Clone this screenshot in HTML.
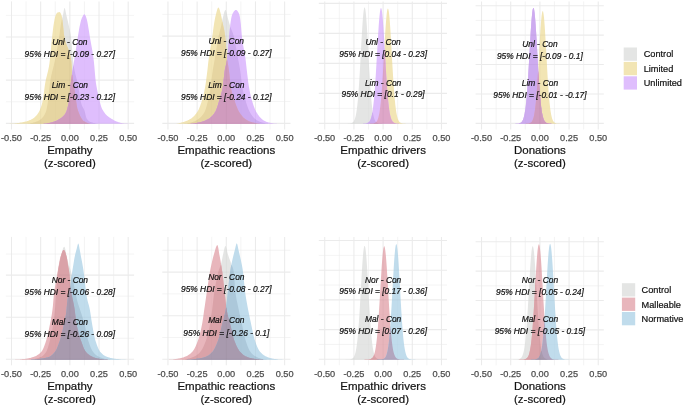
<!DOCTYPE html>
<html><head><meta charset="utf-8"><title>Posterior densities</title>
<style>html,body{margin:0;padding:0;background:#fff;}body{width:685px;height:407px;overflow:hidden;font-family:"Liberation Sans",sans-serif;}svg{display:block;will-change:transform;}</style>
</head><body>
<svg width="685" height="407" viewBox="0 0 685 407" font-family="Liberation Sans, sans-serif"><rect width="685" height="407" fill="#ffffff"/><g><line x1="11.5" x2="11.5" y1="1.4" y2="129.5" stroke="#ebebeb" stroke-width="1.07"/><line x1="26.09" x2="26.09" y1="1.4" y2="129.5" stroke="#ebebeb" stroke-width="0.53"/><line x1="40.67" x2="40.67" y1="1.4" y2="129.5" stroke="#ebebeb" stroke-width="1.07"/><line x1="55.26" x2="55.26" y1="1.4" y2="129.5" stroke="#ebebeb" stroke-width="0.53"/><line x1="69.85" x2="69.85" y1="1.4" y2="129.5" stroke="#ebebeb" stroke-width="1.07"/><line x1="84.44" x2="84.44" y1="1.4" y2="129.5" stroke="#ebebeb" stroke-width="0.53"/><line x1="99.02" x2="99.02" y1="1.4" y2="129.5" stroke="#ebebeb" stroke-width="1.07"/><line x1="113.61" x2="113.61" y1="1.4" y2="129.5" stroke="#ebebeb" stroke-width="0.53"/><line x1="128.2" x2="128.2" y1="1.4" y2="129.5" stroke="#ebebeb" stroke-width="1.07"/><line x1="5.9" x2="134.1" y1="123.35" y2="123.35" stroke="#ebebeb" stroke-width="1.07"/><line x1="5.9" x2="134.1" y1="101.75" y2="101.75" stroke="#ebebeb" stroke-width="0.53"/><line x1="5.9" x2="134.1" y1="80.15" y2="80.15" stroke="#ebebeb" stroke-width="1.07"/><line x1="5.9" x2="134.1" y1="58.55" y2="58.55" stroke="#ebebeb" stroke-width="0.53"/><line x1="5.9" x2="134.1" y1="36.95" y2="36.95" stroke="#ebebeb" stroke-width="1.07"/><line x1="5.9" x2="134.1" y1="15.35" y2="15.35" stroke="#ebebeb" stroke-width="0.53"/><polygon points="26.4,123.8 26.4,123.7 26.9,123.7 27.4,123.7 27.9,123.6 28.4,123.6 28.9,123.5 29.4,123.5 29.9,123.4 30.4,123.3 30.9,123.2 31.4,123.1 31.9,123 32.4,122.9 32.9,122.8 33.4,122.6 33.9,122.5 34.4,122.3 34.9,122.2 35.4,122 35.9,121.8 36.4,121.6 36.9,121.4 37.4,121.2 37.9,121 38.4,120.8 38.9,120.5 39.4,120.3 39.9,120 40.4,119.6 40.9,119.2 41.4,118.8 41.9,118.3 42.4,117.8 42.9,117.1 43.4,116.5 43.9,115.7 44.4,114.9 44.9,114.1 45.4,113.1 45.9,111.8 46.4,109.9 46.9,107.6 47.4,104.9 47.9,102 48.4,97.9 48.9,92.9 49.4,87.8 49.9,83.4 50.4,80.2 50.9,77.5 51.4,75.1 51.9,72.9 52.4,70.8 52.9,68.9 53.4,66.9 53.9,64.9 54.4,62.8 54.9,60.5 55.4,58 55.9,55.4 56.4,52.8 56.9,50.1 57.4,47.4 57.9,44.5 58.4,41.6 58.9,38.5 59.4,35.3 59.9,31.6 60.4,27.6 60.9,24.1 61.4,21.4 61.9,19.3 62.4,17.4 62.9,15.4 63.4,12.9 63.9,9.7 64.4,7.8 64.9,8.4 65.4,10.5 65.9,13.1 66.4,15.3 66.9,17.4 67.4,19.4 67.9,21.6 68.4,23.8 68.9,25.9 69.4,28 69.9,30.3 70.4,33 70.9,36.1 71.4,40.7 71.9,46.5 72.4,52.7 72.9,58.7 73.4,63.5 73.9,66.9 74.4,69.7 74.9,72.1 75.4,74.2 75.9,76.2 76.4,78.2 76.9,80.1 77.4,82.2 77.9,84.5 78.4,87.2 78.9,90.2 79.4,93.4 79.9,96.6 80.4,99.6 80.9,102.1 81.4,104 81.9,105.4 82.4,106.4 82.9,107.4 83.4,108.3 83.9,109.3 84.4,110.6 84.9,112.3 85.4,114.3 85.9,116.2 86.4,117.9 86.9,119 87.4,119.6 87.9,120.2 88.4,120.7 88.9,121.1 89.4,121.4 89.9,121.7 90.4,121.9 90.9,122.1 91.4,122.3 91.9,122.4 92.4,122.6 92.9,122.7 93.4,122.9 93.9,123 94.4,123.1 94.9,123.2 95.4,123.3 95.9,123.4 96.4,123.5 96.9,123.6 97.4,123.6 97.9,123.7 98.4,123.7 98.9,123.7 98.9,123.8" fill="#e4e5e4" /><polygon points="7.4,123.8 7.4,123.7 7.9,123.7 8.4,123.7 8.9,123.7 9.4,123.7 9.9,123.6 10.4,123.6 10.9,123.6 11.4,123.6 11.9,123.5 12.4,123.5 12.9,123.5 13.4,123.4 13.9,123.4 14.4,123.4 14.9,123.3 15.4,123.3 15.9,123.2 16.4,123.2 16.9,123.1 17.4,123.1 17.9,123 18.4,122.9 18.9,122.9 19.4,122.8 19.9,122.7 20.4,122.6 20.9,122.5 21.4,122.4 21.9,122.4 22.4,122.3 22.9,122.2 23.4,122.1 23.9,122 24.4,121.8 24.9,121.7 25.4,121.6 25.9,121.5 26.4,121.4 26.9,121.2 27.4,121.1 27.9,120.9 28.4,120.7 28.9,120.5 29.4,120.3 29.9,120.1 30.4,119.9 30.9,119.7 31.4,119.4 31.9,119.1 32.4,118.9 32.9,118.6 33.4,118.3 33.9,117.9 34.4,117.5 34.9,117.1 35.4,116.6 35.9,116.1 36.4,115.5 36.9,114.9 37.4,114.3 37.9,113.6 38.4,112.8 38.9,112 39.4,111 39.9,109.9 40.4,108.6 40.9,107.3 41.4,105.7 41.9,104.1 42.4,102.2 42.9,99.6 43.4,96.3 43.9,92.5 44.4,88.7 44.9,85.1 45.4,82 45.9,79.5 46.4,77.4 46.9,75.4 47.4,73.5 47.9,71.5 48.4,69.3 48.9,66.8 49.4,63.7 49.9,59.6 50.4,54.8 50.9,49.5 51.4,44.1 51.9,39.1 52.4,34.5 52.9,30.2 53.4,26.2 53.9,22.9 54.4,20.2 54.9,17.7 55.4,15.9 55.9,14.8 56.4,13.8 56.9,13.1 57.4,12.6 57.9,12.4 58.4,12.3 58.9,12.2 59.4,12.1 59.9,12.2 60.4,12.7 60.9,13.7 61.4,14.9 61.9,16.6 62.4,19.9 62.9,23.7 63.4,28.9 63.9,34 64.4,37 64.9,39.4 65.4,41.3 65.9,43 66.4,44.3 66.9,45.6 67.4,46.7 67.9,47.8 68.4,49 68.9,50.3 69.4,51.8 69.9,53.6 70.4,55.7 70.9,58.2 71.4,61.7 71.9,68.3 72.4,75 72.9,79.3 73.4,82.8 73.9,86 74.4,89 74.9,92.1 75.4,95.7 75.9,99.5 76.4,103.1 76.9,106.4 77.4,108.7 77.9,110.3 78.4,111.7 78.9,113 79.4,114.3 79.9,115.4 80.4,116.5 80.9,117.4 81.4,118.3 81.9,119.1 82.4,119.8 82.9,120.4 83.4,120.9 83.9,121.2 84.4,121.6 84.9,121.8 85.4,122.1 85.9,122.4 86.4,122.6 86.9,122.8 87.4,123 87.9,123.1 88.4,123.3 88.9,123.4 89.4,123.5 89.9,123.6 90.4,123.7 90.9,123.7 91.4,123.7 91.4,123.8" fill="#f2e5b4" /><polygon points="42.4,123.8 42.4,123.7 42.9,123.7 43.4,123.7 43.9,123.6 44.4,123.6 44.9,123.5 45.4,123.5 45.9,123.4 46.4,123.4 46.9,123.3 47.4,123.2 47.9,123.1 48.4,123 48.9,123 49.4,122.9 49.9,122.8 50.4,122.7 50.9,122.5 51.4,122.4 51.9,122.3 52.4,122.2 52.9,122 53.4,121.8 53.9,121.7 54.4,121.5 54.9,121.3 55.4,121.1 55.9,120.9 56.4,120.7 56.9,120.4 57.4,120.2 57.9,119.9 58.4,119.6 58.9,119.4 59.4,119.1 59.9,118.8 60.4,118.4 60.9,118.1 61.4,117.8 61.9,117.4 62.4,117 62.9,116.5 63.4,116 63.9,115.5 64.4,114.9 64.9,114.2 65.4,113.4 65.9,112.6 66.4,111.4 66.9,110 67.4,108.3 67.9,106.3 68.4,104.1 68.9,101.4 69.4,97.2 69.9,92 70.4,86.6 70.9,82 71.4,78.2 71.9,74.7 72.4,71.4 72.9,68.2 73.4,65.1 73.9,61.9 74.4,58.7 74.9,55.6 75.4,52.4 75.9,49.3 76.4,46.2 76.9,43 77.4,39.8 77.9,36.6 78.4,33.5 78.9,30.4 79.4,27.6 79.9,25.2 80.4,22.9 80.9,20.8 81.4,19.2 81.9,18 82.4,16.9 82.9,15.9 83.4,15.1 83.9,14.6 84.4,14.3 84.9,14.5 85.4,15.4 85.9,16.6 86.4,18.1 86.9,19.8 87.4,22.1 87.9,24.8 88.4,27.7 88.9,30.8 89.4,34.1 89.9,37.2 90.4,40.1 90.9,42.8 91.4,45.5 91.9,48.2 92.4,51.1 92.9,54.3 93.4,57.7 93.9,61.7 94.4,67.1 94.9,73 95.4,78.6 95.9,82.7 96.4,85.8 96.9,88.5 97.4,90.9 97.9,93.2 98.4,95.3 98.9,97.4 99.4,99.6 99.9,101.9 100.4,103.9 100.9,105.8 101.4,107.3 101.9,108.4 102.4,109.4 102.9,110.3 103.4,111.1 103.9,111.9 104.4,112.6 104.9,113.3 105.4,113.9 105.9,114.5 106.4,115 106.9,115.5 107.4,115.9 107.9,116.3 108.4,116.7 108.9,117 109.4,117.4 109.9,117.7 110.4,118 110.9,118.4 111.4,118.7 111.9,119 112.4,119.3 112.9,119.6 113.4,119.9 113.9,120.2 114.4,120.4 114.9,120.7 115.4,120.9 115.9,121.2 116.4,121.4 116.9,121.6 117.4,121.8 117.9,122 118.4,122.2 118.9,122.3 119.4,122.5 119.9,122.6 120.4,122.8 120.9,122.9 121.4,123 121.9,123.1 122.4,123.2 122.9,123.2 123.4,123.3 123.9,123.4 124.4,123.4 124.9,123.4 125.4,123.5 125.9,123.5 126.4,123.5 126.9,123.6 127.4,123.6 127.9,123.6 128.4,123.6 128.9,123.7 129.4,123.7 129.9,123.7 130.4,123.7 130.4,123.8" fill="#dfbefd" /><polygon points="26.4,123.8 26.4,123.7 26.9,123.7 27.4,123.7 27.9,123.6 28.4,123.6 28.9,123.5 29.4,123.5 29.9,123.4 30.4,123.3 30.9,123.2 31.4,123.1 31.9,123 32.4,122.9 32.9,122.8 33.4,122.6 33.9,122.5 34.4,122.3 34.9,122.2 35.4,122 35.9,121.8 36.4,121.6 36.9,121.4 37.4,121.2 37.9,121 38.4,120.8 38.9,120.5 39.4,120.3 39.9,120 40.4,119.6 40.9,119.2 41.4,118.8 41.9,118.3 42.4,117.8 42.9,117.1 43.4,116.5 43.9,115.7 44.4,114.9 44.9,114.1 45.4,113.1 45.9,111.8 46.4,109.9 46.9,107.6 47.4,104.9 47.9,102 48.4,97.9 48.9,92.9 49.4,87.8 49.9,83.4 50.4,80.2 50.9,77.5 51.4,75.1 51.9,72.9 52.4,70.8 52.9,68.9 53.4,66.9 53.9,64.9 54.4,62.8 54.9,60.5 55.4,58 55.9,55.4 56.4,52.8 56.9,50.1 57.4,47.4 57.9,44.5 58.4,41.6 58.9,38.5 59.4,35.3 59.9,31.6 60.4,27.6 60.9,24.1 61.4,21.4 61.9,19.3 62.4,19.9 62.9,23.7 63.4,28.9 63.9,34 64.4,37 64.9,39.4 65.4,41.3 65.9,43 66.4,44.3 66.9,45.6 67.4,46.7 67.9,47.8 68.4,49 68.9,50.3 69.4,51.8 69.9,53.6 70.4,55.7 70.9,58.2 71.4,61.7 71.9,68.3 72.4,75 72.9,79.3 73.4,82.8 73.9,86 74.4,89 74.9,92.1 75.4,95.7 75.9,99.5 76.4,103.1 76.9,106.4 77.4,108.7 77.9,110.3 78.4,111.7 78.9,113 79.4,114.3 79.9,115.4 80.4,116.5 80.9,117.4 81.4,118.3 81.9,119.1 82.4,119.8 82.9,120.4 83.4,120.9 83.9,121.2 84.4,121.6 84.9,121.8 85.4,122.1 85.9,122.4 86.4,122.6 86.9,122.8 87.4,123 87.9,123.1 88.4,123.3 88.9,123.4 89.4,123.5 89.9,123.6 90.4,123.7 90.9,123.7 91.4,123.7 91.4,123.8" fill="#e6d5a1" /><polygon points="42.4,123.8 42.4,123.7 42.9,123.7 43.4,123.7 43.9,123.6 44.4,123.6 44.9,123.5 45.4,123.5 45.9,123.4 46.4,123.4 46.9,123.3 47.4,123.2 47.9,123.1 48.4,123 48.9,123 49.4,122.9 49.9,122.8 50.4,122.7 50.9,122.5 51.4,122.4 51.9,122.3 52.4,122.2 52.9,122 53.4,121.8 53.9,121.7 54.4,121.5 54.9,121.3 55.4,121.1 55.9,120.9 56.4,120.7 56.9,120.4 57.4,120.2 57.9,119.9 58.4,119.6 58.9,119.4 59.4,119.1 59.9,118.8 60.4,118.4 60.9,118.1 61.4,117.8 61.9,117.4 62.4,117 62.9,116.5 63.4,116 63.9,115.5 64.4,114.9 64.9,114.2 65.4,113.4 65.9,112.6 66.4,111.4 66.9,110 67.4,108.3 67.9,106.3 68.4,104.1 68.9,101.4 69.4,97.2 69.9,92 70.4,86.6 70.9,82 71.4,78.2 71.9,74.7 72.4,71.4 72.9,68.2 73.4,65.1 73.9,66.9 74.4,69.7 74.9,72.1 75.4,74.2 75.9,76.2 76.4,78.2 76.9,80.1 77.4,82.2 77.9,84.5 78.4,87.2 78.9,90.2 79.4,93.4 79.9,96.6 80.4,99.6 80.9,102.1 81.4,104 81.9,105.4 82.4,106.4 82.9,107.4 83.4,108.3 83.9,109.3 84.4,110.6 84.9,112.3 85.4,114.3 85.9,116.2 86.4,117.9 86.9,119 87.4,119.6 87.9,120.2 88.4,120.7 88.9,121.1 89.4,121.4 89.9,121.7 90.4,121.9 90.9,122.1 91.4,122.3 91.9,122.4 92.4,122.6 92.9,122.7 93.4,122.9 93.9,123 94.4,123.1 94.9,123.2 95.4,123.3 95.9,123.4 96.4,123.5 96.9,123.6 97.4,123.6 97.9,123.7 98.4,123.7 98.9,123.7 98.9,123.8" fill="#cdabef" /><polygon points="42.4,123.8 42.4,123.7 42.9,123.7 43.4,123.7 43.9,123.6 44.4,123.6 44.9,123.5 45.4,123.5 45.9,123.4 46.4,123.4 46.9,123.3 47.4,123.2 47.9,123.1 48.4,123 48.9,123 49.4,122.9 49.9,122.8 50.4,122.7 50.9,122.5 51.4,122.4 51.9,122.3 52.4,122.2 52.9,122 53.4,121.8 53.9,121.7 54.4,121.5 54.9,121.3 55.4,121.1 55.9,120.9 56.4,120.7 56.9,120.4 57.4,120.2 57.9,119.9 58.4,119.6 58.9,119.4 59.4,119.1 59.9,118.8 60.4,118.4 60.9,118.1 61.4,117.8 61.9,117.4 62.4,117 62.9,116.5 63.4,116 63.9,115.5 64.4,114.9 64.9,114.2 65.4,113.4 65.9,112.6 66.4,111.4 66.9,110 67.4,108.3 67.9,106.3 68.4,104.1 68.9,101.4 69.4,97.2 69.9,92 70.4,86.6 70.9,82 71.4,78.2 71.9,74.7 72.4,75 72.9,79.3 73.4,82.8 73.9,86 74.4,89 74.9,92.1 75.4,95.7 75.9,99.5 76.4,103.1 76.9,106.4 77.4,108.7 77.9,110.3 78.4,111.7 78.9,113 79.4,114.3 79.9,115.4 80.4,116.5 80.9,117.4 81.4,118.3 81.9,119.1 82.4,119.8 82.9,120.4 83.4,120.9 83.9,121.2 84.4,121.6 84.9,121.8 85.4,122.1 85.9,122.4 86.4,122.6 86.9,122.8 87.4,123 87.9,123.1 88.4,123.3 88.9,123.4 89.4,123.5 89.9,123.6 90.4,123.7 90.9,123.7 91.4,123.7 91.4,123.8" fill="#dea6c8" /><polygon points="42.4,123.8 42.4,123.7 42.9,123.7 43.4,123.7 43.9,123.6 44.4,123.6 44.9,123.5 45.4,123.5 45.9,123.4 46.4,123.4 46.9,123.3 47.4,123.2 47.9,123.1 48.4,123 48.9,123 49.4,122.9 49.9,122.8 50.4,122.7 50.9,122.5 51.4,122.4 51.9,122.3 52.4,122.2 52.9,122 53.4,121.8 53.9,121.7 54.4,121.5 54.9,121.3 55.4,121.1 55.9,120.9 56.4,120.7 56.9,120.4 57.4,120.2 57.9,119.9 58.4,119.6 58.9,119.4 59.4,119.1 59.9,118.8 60.4,118.4 60.9,118.1 61.4,117.8 61.9,117.4 62.4,117 62.9,116.5 63.4,116 63.9,115.5 64.4,114.9 64.9,114.2 65.4,113.4 65.9,112.6 66.4,111.4 66.9,110 67.4,108.3 67.9,106.3 68.4,104.1 68.9,101.4 69.4,97.2 69.9,92 70.4,86.6 70.9,82 71.4,78.2 71.9,74.7 72.4,75 72.9,79.3 73.4,82.8 73.9,86 74.4,89 74.9,92.1 75.4,95.7 75.9,99.5 76.4,103.1 76.9,106.4 77.4,108.7 77.9,110.3 78.4,111.7 78.9,113 79.4,114.3 79.9,115.4 80.4,116.5 80.9,117.4 81.4,118.3 81.9,119.1 82.4,119.8 82.9,120.4 83.4,120.9 83.9,121.2 84.4,121.6 84.9,121.8 85.4,122.1 85.9,122.4 86.4,122.6 86.9,122.8 87.4,123 87.9,123.1 88.4,123.3 88.9,123.4 89.4,123.5 89.9,123.6 90.4,123.7 90.9,123.7 91.4,123.7 91.4,123.8" fill="#d09bbe" /><clipPath id="u0"><polygon points="7.4,123.8 7.4,123.7 7.9,123.7 8.4,123.7 8.9,123.7 9.4,123.7 9.9,123.6 10.4,123.6 10.9,123.6 11.4,123.6 11.9,123.5 12.4,123.5 12.9,123.5 13.4,123.4 13.9,123.4 14.4,123.4 14.9,123.3 15.4,123.3 15.9,123.2 16.4,123.2 16.9,123.1 17.4,123.1 17.9,123 18.4,122.9 18.9,122.9 19.4,122.8 19.9,122.7 20.4,122.6 20.9,122.5 21.4,122.4 21.9,122.4 22.4,122.3 22.9,122.2 23.4,122.1 23.9,122 24.4,121.8 24.9,121.7 25.4,121.6 25.9,121.5 26.4,121.4 26.9,121.2 27.4,121.1 27.9,120.9 28.4,120.7 28.9,120.5 29.4,120.3 29.9,120.1 30.4,119.9 30.9,119.7 31.4,119.4 31.9,119.1 32.4,118.9 32.9,118.6 33.4,118.3 33.9,117.9 34.4,117.5 34.9,117.1 35.4,116.6 35.9,116.1 36.4,115.5 36.9,114.9 37.4,114.3 37.9,113.6 38.4,112.8 38.9,112 39.4,111 39.9,109.9 40.4,108.6 40.9,107.3 41.4,105.7 41.9,104.1 42.4,102.2 42.9,99.6 43.4,96.3 43.9,92.5 44.4,88.7 44.9,85.1 45.4,82 45.9,79.5 46.4,77.4 46.9,75.4 47.4,73.5 47.9,71.5 48.4,69.3 48.9,66.8 49.4,63.7 49.9,59.6 50.4,54.8 50.9,49.5 51.4,44.1 51.9,39.1 52.4,34.5 52.9,30.2 53.4,26.2 53.9,22.9 54.4,20.2 54.9,17.7 55.4,15.9 55.9,14.8 56.4,13.8 56.9,13.1 57.4,12.6 57.9,12.4 58.4,12.3 58.9,12.2 59.4,12.1 59.9,12.2 60.4,12.7 60.9,13.7 61.4,14.9 61.9,16.6 62.4,17.4 62.9,15.4 63.4,12.9 63.9,9.7 64.4,7.8 64.9,8.4 65.4,10.5 65.9,13.1 66.4,15.3 66.9,17.4 67.4,19.4 67.9,21.6 68.4,23.8 68.9,25.9 69.4,28 69.9,30.3 70.4,33 70.9,36.1 71.4,40.7 71.9,46.5 72.4,52.7 72.9,58.7 73.4,63.5 73.9,61.9 74.4,58.7 74.9,55.6 75.4,52.4 75.9,49.3 76.4,46.2 76.9,43 77.4,39.8 77.9,36.6 78.4,33.5 78.9,30.4 79.4,27.6 79.9,25.2 80.4,22.9 80.9,20.8 81.4,19.2 81.9,18 82.4,16.9 82.9,15.9 83.4,15.1 83.9,14.6 84.4,14.3 84.9,14.5 85.4,15.4 85.9,16.6 86.4,18.1 86.9,19.8 87.4,22.1 87.9,24.8 88.4,27.7 88.9,30.8 89.4,34.1 89.9,37.2 90.4,40.1 90.9,42.8 91.4,45.5 91.9,48.2 92.4,51.1 92.9,54.3 93.4,57.7 93.9,61.7 94.4,67.1 94.9,73 95.4,78.6 95.9,82.7 96.4,85.8 96.9,88.5 97.4,90.9 97.9,93.2 98.4,95.3 98.9,97.4 99.4,99.6 99.9,101.9 100.4,103.9 100.9,105.8 101.4,107.3 101.9,108.4 102.4,109.4 102.9,110.3 103.4,111.1 103.9,111.9 104.4,112.6 104.9,113.3 105.4,113.9 105.9,114.5 106.4,115 106.9,115.5 107.4,115.9 107.9,116.3 108.4,116.7 108.9,117 109.4,117.4 109.9,117.7 110.4,118 110.9,118.4 111.4,118.7 111.9,119 112.4,119.3 112.9,119.6 113.4,119.9 113.9,120.2 114.4,120.4 114.9,120.7 115.4,120.9 115.9,121.2 116.4,121.4 116.9,121.6 117.4,121.8 117.9,122 118.4,122.2 118.9,122.3 119.4,122.5 119.9,122.6 120.4,122.8 120.9,122.9 121.4,123 121.9,123.1 122.4,123.2 122.9,123.2 123.4,123.3 123.9,123.4 124.4,123.4 124.9,123.4 125.4,123.5 125.9,123.5 126.4,123.5 126.9,123.6 127.4,123.6 127.9,123.6 128.4,123.6 128.9,123.7 129.4,123.7 129.9,123.7 130.4,123.7 130.4,123.8"/></clipPath><g clip-path="url(#u0)"><line x1="11.5" x2="11.5" y1="1.4" y2="129.5" stroke="#000" stroke-opacity="0.032" stroke-width="1.07"/><line x1="26.09" x2="26.09" y1="1.4" y2="129.5" stroke="#000" stroke-opacity="0.022" stroke-width="0.53"/><line x1="40.67" x2="40.67" y1="1.4" y2="129.5" stroke="#000" stroke-opacity="0.032" stroke-width="1.07"/><line x1="55.26" x2="55.26" y1="1.4" y2="129.5" stroke="#000" stroke-opacity="0.022" stroke-width="0.53"/><line x1="69.85" x2="69.85" y1="1.4" y2="129.5" stroke="#000" stroke-opacity="0.032" stroke-width="1.07"/><line x1="84.44" x2="84.44" y1="1.4" y2="129.5" stroke="#000" stroke-opacity="0.022" stroke-width="0.53"/><line x1="99.02" x2="99.02" y1="1.4" y2="129.5" stroke="#000" stroke-opacity="0.032" stroke-width="1.07"/><line x1="113.61" x2="113.61" y1="1.4" y2="129.5" stroke="#000" stroke-opacity="0.022" stroke-width="0.53"/><line x1="128.2" x2="128.2" y1="1.4" y2="129.5" stroke="#000" stroke-opacity="0.032" stroke-width="1.07"/><line x1="5.9" x2="134.1" y1="123.35" y2="123.35" stroke="#000" stroke-opacity="0.032" stroke-width="1.07"/><line x1="5.9" x2="134.1" y1="101.75" y2="101.75" stroke="#000" stroke-opacity="0.022" stroke-width="0.53"/><line x1="5.9" x2="134.1" y1="80.15" y2="80.15" stroke="#000" stroke-opacity="0.032" stroke-width="1.07"/><line x1="5.9" x2="134.1" y1="58.55" y2="58.55" stroke="#000" stroke-opacity="0.022" stroke-width="0.53"/><line x1="5.9" x2="134.1" y1="36.95" y2="36.95" stroke="#000" stroke-opacity="0.032" stroke-width="1.07"/><line x1="5.9" x2="134.1" y1="15.35" y2="15.35" stroke="#000" stroke-opacity="0.022" stroke-width="0.53"/></g><text x="69.85" y="45.31" font-size="8.4" font-style="italic" text-anchor="middle" fill="#111" stroke="#111" stroke-width="0.2">Unl - Con</text><text x="69.85" y="57.31" font-size="8.4" font-style="italic" text-anchor="middle" fill="#111" stroke="#111" stroke-width="0.2">95% HDI = [-0.09 - 0.27]</text><text x="69.85" y="88.41" font-size="8.4" font-style="italic" text-anchor="middle" fill="#111" stroke="#111" stroke-width="0.2">Lim - Con</text><text x="69.85" y="100.41" font-size="8.4" font-style="italic" text-anchor="middle" fill="#111" stroke="#111" stroke-width="0.2">95% HDI = [-0.23 - 0.12]</text><text x="11.5" y="140.9" font-size="9.2" text-anchor="middle" fill="#4d4d4d" stroke="#4d4d4d" stroke-width="0.25">-0.50</text><text x="40.67" y="140.9" font-size="9.2" text-anchor="middle" fill="#4d4d4d" stroke="#4d4d4d" stroke-width="0.25">-0.25</text><text x="69.85" y="140.9" font-size="9.2" text-anchor="middle" fill="#4d4d4d" stroke="#4d4d4d" stroke-width="0.25">0.00</text><text x="99.02" y="140.9" font-size="9.2" text-anchor="middle" fill="#4d4d4d" stroke="#4d4d4d" stroke-width="0.25">0.25</text><text x="128.2" y="140.9" font-size="9.2" text-anchor="middle" fill="#4d4d4d" stroke="#4d4d4d" stroke-width="0.25">0.50</text><text x="69.85" y="154.1" font-size="11.5" text-anchor="middle" fill="#111" stroke="#111" stroke-width="0.2">Empathy</text><text x="69.85" y="167" font-size="11.5" text-anchor="middle" fill="#111" stroke="#111" stroke-width="0.2">(z-scored)</text></g><g><line x1="167.95" x2="167.95" y1="1.4" y2="129.5" stroke="#ebebeb" stroke-width="1.07"/><line x1="182.54" x2="182.54" y1="1.4" y2="129.5" stroke="#ebebeb" stroke-width="0.53"/><line x1="197.12" x2="197.12" y1="1.4" y2="129.5" stroke="#ebebeb" stroke-width="1.07"/><line x1="211.71" x2="211.71" y1="1.4" y2="129.5" stroke="#ebebeb" stroke-width="0.53"/><line x1="226.3" x2="226.3" y1="1.4" y2="129.5" stroke="#ebebeb" stroke-width="1.07"/><line x1="240.89" x2="240.89" y1="1.4" y2="129.5" stroke="#ebebeb" stroke-width="0.53"/><line x1="255.48" x2="255.48" y1="1.4" y2="129.5" stroke="#ebebeb" stroke-width="1.07"/><line x1="270.06" x2="270.06" y1="1.4" y2="129.5" stroke="#ebebeb" stroke-width="0.53"/><line x1="284.65" x2="284.65" y1="1.4" y2="129.5" stroke="#ebebeb" stroke-width="1.07"/><line x1="162.3" x2="290.5" y1="123.35" y2="123.35" stroke="#ebebeb" stroke-width="1.07"/><line x1="162.3" x2="290.5" y1="101.55" y2="101.55" stroke="#ebebeb" stroke-width="0.53"/><line x1="162.3" x2="290.5" y1="79.75" y2="79.75" stroke="#ebebeb" stroke-width="1.07"/><line x1="162.3" x2="290.5" y1="57.95" y2="57.95" stroke="#ebebeb" stroke-width="0.53"/><line x1="162.3" x2="290.5" y1="36.15" y2="36.15" stroke="#ebebeb" stroke-width="1.07"/><line x1="162.3" x2="290.5" y1="14.35" y2="14.35" stroke="#ebebeb" stroke-width="0.53"/><polygon points="183.8,123.8 183.8,123.7 184.3,123.7 184.8,123.6 185.3,123.6 185.8,123.5 186.3,123.5 186.8,123.4 187.3,123.3 187.8,123.2 188.3,123.1 188.8,123 189.3,122.9 189.8,122.8 190.3,122.7 190.8,122.5 191.3,122.4 191.8,122.3 192.3,122.1 192.8,122 193.3,121.8 193.8,121.6 194.3,121.4 194.8,121.2 195.3,120.9 195.8,120.6 196.3,120.4 196.8,120.1 197.3,119.8 197.8,119.4 198.3,119.1 198.8,118.7 199.3,118.3 199.8,117.9 200.3,117.5 200.8,117 201.3,116.5 201.8,115.9 202.3,115.3 202.8,114.7 203.3,114 203.8,113.2 204.3,112.4 204.8,111.5 205.3,110.3 205.8,108.9 206.3,107.3 206.8,105.5 207.3,103.5 207.8,101.5 208.3,99.4 208.8,97.2 209.3,94.7 209.8,92 210.3,89 210.8,85.8 211.3,81.9 211.8,77.5 212.3,73.4 212.8,70.1 213.3,67.1 213.8,64.4 214.3,61.6 214.8,58.7 215.3,55.7 215.8,52.7 216.3,49.6 216.8,46.5 217.3,43.5 217.8,40.6 218.3,37.9 218.8,35.5 219.3,33.3 219.8,31.4 220.3,29.5 220.8,27.5 221.3,25.2 221.8,22.5 222.3,20 222.8,17.9 223.3,15.9 223.8,13.8 224.3,12.1 224.8,10.7 225.3,10 225.8,10.1 226.3,11.4 226.8,13.4 227.3,15.8 227.8,18 228.3,19.7 228.8,21.5 229.3,23.2 229.8,24.9 230.3,26.5 230.8,27.9 231.3,29.2 231.8,30.4 232.3,31.7 232.8,33 233.3,34.7 233.8,36.6 234.3,38.7 234.8,41.1 235.3,43.5 235.8,46.2 236.3,48.9 236.8,51.6 237.3,54.4 237.8,57.2 238.3,60 238.8,62.6 239.3,65.4 239.8,68.2 240.3,71.3 240.8,75.1 241.3,79.5 241.8,83.8 242.3,87.1 242.8,89.7 243.3,92 243.8,94.1 244.3,96 244.8,97.8 245.3,99.5 245.8,101.2 246.3,102.9 246.8,104.5 247.3,106 247.8,107.5 248.3,108.8 248.8,110 249.3,111.1 249.8,112.1 250.3,112.9 250.8,113.8 251.3,114.5 251.8,115.3 252.3,116 252.8,116.6 253.3,117.2 253.8,117.7 254.3,118.2 254.8,118.7 255.3,119.1 255.8,119.5 256.3,119.9 256.8,120.2 257.3,120.5 257.8,120.8 258.3,121.1 258.8,121.3 259.3,121.6 259.8,121.8 260.3,122 260.8,122.1 261.3,122.3 261.8,122.4 262.3,122.6 262.8,122.7 263.3,122.8 263.8,123 264.3,123.1 264.8,123.2 265.3,123.3 265.8,123.4 266.3,123.5 266.8,123.5 267.3,123.6 267.8,123.6 268.3,123.7 268.8,123.7 268.8,123.8" fill="#e4e5e4" /><polygon points="175.8,123.8 175.8,123.8 176.3,123.7 176.8,123.6 177.3,123.5 177.8,123.5 178.3,123.4 178.8,123.3 179.3,123.1 179.8,123 180.3,122.9 180.8,122.8 181.3,122.6 181.8,122.5 182.3,122.3 182.8,122.2 183.3,122 183.8,121.9 184.3,121.7 184.8,121.5 185.3,121.3 185.8,121.2 186.3,121 186.8,120.8 187.3,120.6 187.8,120.4 188.3,120.1 188.8,119.9 189.3,119.6 189.8,119.3 190.3,119 190.8,118.7 191.3,118.4 191.8,118 192.3,117.6 192.8,117.2 193.3,116.7 193.8,116.3 194.3,115.7 194.8,115.2 195.3,114.6 195.8,114 196.3,113.3 196.8,112.6 197.3,111.9 197.8,111.1 198.3,110.2 198.8,109.2 199.3,108 199.8,106.8 200.3,105.5 200.8,104.1 201.3,102.7 201.8,101.1 202.3,99.5 202.8,97.8 203.3,95.9 203.8,93.7 204.3,91.3 204.8,88.7 205.3,85.9 205.8,82.7 206.3,79.1 206.8,75.2 207.3,71.2 207.8,66.7 208.3,62.1 208.8,58.3 209.3,54.8 209.8,51.6 210.3,48.5 210.8,45.5 211.3,42.6 211.8,39.5 212.3,36.3 212.8,32.9 213.3,29.1 213.8,25.5 214.3,22.3 214.8,19.5 215.3,17 215.8,14.9 216.3,13 216.8,11 217.3,9.3 217.8,8 218.3,7.4 218.8,7.7 219.3,8.7 219.8,10.3 220.3,12.2 220.8,14.1 221.3,16.2 221.8,18.7 222.3,21.4 222.8,23.9 223.3,26.1 223.8,28.3 224.3,30.6 224.8,33.4 225.3,37 225.8,42.7 226.3,49.3 226.8,55.6 227.3,60.2 227.8,63.6 228.3,66.6 228.8,69.8 229.3,73.8 229.8,79.1 230.3,84.3 230.8,87.6 231.3,90 231.8,92.1 232.3,93.9 232.8,95.5 233.3,97 233.8,98.5 234.3,100 234.8,101.5 235.3,103 235.8,104.4 236.3,105.8 236.8,107.1 237.3,108.3 237.8,109.4 238.3,110.5 238.8,111.4 239.3,112.2 239.8,113 240.3,113.7 240.8,114.4 241.3,115.1 241.8,115.7 242.3,116.3 242.8,116.9 243.3,117.4 243.8,117.9 244.3,118.3 244.8,118.7 245.3,119.1 245.8,119.4 246.3,119.8 246.8,120.1 247.3,120.4 247.8,120.6 248.3,120.9 248.8,121.2 249.3,121.4 249.8,121.6 250.3,121.8 250.8,121.9 251.3,122.1 251.8,122.2 252.3,122.4 252.8,122.5 253.3,122.6 253.8,122.7 254.3,122.8 254.8,123 255.3,123.1 255.8,123.2 256.3,123.2 256.8,123.3 257.3,123.4 257.8,123.5 258.3,123.5 258.8,123.6 259.3,123.6 259.8,123.7 260.3,123.7 260.8,123.7 260.8,123.8" fill="#f2e5b4" /><polygon points="189.3,123.8 189.3,123.7 189.8,123.7 190.3,123.7 190.8,123.6 191.3,123.6 191.8,123.5 192.3,123.5 192.8,123.4 193.3,123.4 193.8,123.3 194.3,123.3 194.8,123.2 195.3,123.1 195.8,123 196.3,122.9 196.8,122.9 197.3,122.8 197.8,122.7 198.3,122.6 198.8,122.5 199.3,122.4 199.8,122.3 200.3,122.1 200.8,122 201.3,121.9 201.8,121.8 202.3,121.6 202.8,121.5 203.3,121.3 203.8,121.1 204.3,120.9 204.8,120.7 205.3,120.5 205.8,120.3 206.3,120.1 206.8,119.8 207.3,119.5 207.8,119.3 208.3,119 208.8,118.7 209.3,118.4 209.8,118 210.3,117.6 210.8,117.2 211.3,116.7 211.8,116.2 212.3,115.7 212.8,115.2 213.3,114.6 213.8,113.9 214.3,113.2 214.8,112.5 215.3,111.7 215.8,110.8 216.3,109.6 216.8,108.3 217.3,106.8 217.8,105.3 218.3,103.6 218.8,101.9 219.3,100.2 219.8,98.5 220.3,96.9 220.8,95.3 221.3,93.6 221.8,91.7 222.3,89.6 222.8,87.1 223.3,83.5 223.8,78.4 224.3,73.5 224.8,70.1 225.3,67.6 225.8,65.4 226.3,63.2 226.8,60.5 227.3,57.1 227.8,52.2 228.3,46.5 228.8,40.6 229.3,35 229.8,29.5 230.3,24.4 230.8,20.9 231.3,18 231.8,15.7 232.3,14.3 232.8,13.3 233.3,12.4 233.8,11.6 234.3,10.9 234.8,10.4 235.3,10.1 235.8,9.9 236.3,10 236.8,10.2 237.3,10.7 237.8,11.4 238.3,12.3 238.8,13.3 239.3,14.5 239.8,16.5 240.3,19.8 240.8,23.8 241.3,29.7 241.8,35.4 242.3,39.4 242.8,42.8 243.3,45.9 243.8,48.7 244.3,51.5 244.8,54.4 245.3,57.6 245.8,61.3 246.3,65.7 246.8,70.3 247.3,74.5 247.8,78.6 248.3,82.5 248.8,85.9 249.3,88.8 249.8,91.5 250.3,94 250.8,96.2 251.3,98.1 251.8,99.9 252.3,101.6 252.8,103.2 253.3,104.7 253.8,106.2 254.3,107.5 254.8,108.8 255.3,109.9 255.8,110.9 256.3,111.9 256.8,112.8 257.3,113.6 257.8,114.4 258.3,115.1 258.8,115.8 259.3,116.5 259.8,117.1 260.3,117.6 260.8,118.1 261.3,118.6 261.8,119 262.3,119.4 262.8,119.8 263.3,120.2 263.8,120.5 264.3,120.8 264.8,121.1 265.3,121.3 265.8,121.6 266.3,121.8 266.8,122 267.3,122.1 267.8,122.3 268.3,122.4 268.8,122.5 269.3,122.6 269.8,122.7 270.3,122.8 270.8,122.9 271.3,123 271.8,123.1 272.3,123.2 272.8,123.2 273.3,123.3 273.8,123.4 274.3,123.4 274.8,123.5 275.3,123.5 275.8,123.6 276.3,123.6 276.8,123.6 277.3,123.7 277.8,123.7 278.3,123.7 278.3,123.8" fill="#dfbefd" /><polygon points="183.8,123.8 183.8,123.7 184.3,123.7 184.8,123.6 185.3,123.6 185.8,123.5 186.3,123.5 186.8,123.4 187.3,123.3 187.8,123.2 188.3,123.1 188.8,123 189.3,122.9 189.8,122.8 190.3,122.7 190.8,122.5 191.3,122.4 191.8,122.3 192.3,122.1 192.8,122 193.3,121.8 193.8,121.6 194.3,121.4 194.8,121.2 195.3,120.9 195.8,120.6 196.3,120.4 196.8,120.1 197.3,119.8 197.8,119.4 198.3,119.1 198.8,118.7 199.3,118.3 199.8,117.9 200.3,117.5 200.8,117 201.3,116.5 201.8,115.9 202.3,115.3 202.8,114.7 203.3,114 203.8,113.2 204.3,112.4 204.8,111.5 205.3,110.3 205.8,108.9 206.3,107.3 206.8,105.5 207.3,103.5 207.8,101.5 208.3,99.4 208.8,97.2 209.3,94.7 209.8,92 210.3,89 210.8,85.8 211.3,81.9 211.8,77.5 212.3,73.4 212.8,70.1 213.3,67.1 213.8,64.4 214.3,61.6 214.8,58.7 215.3,55.7 215.8,52.7 216.3,49.6 216.8,46.5 217.3,43.5 217.8,40.6 218.3,37.9 218.8,35.5 219.3,33.3 219.8,31.4 220.3,29.5 220.8,27.5 221.3,25.2 221.8,22.5 222.3,21.4 222.8,23.9 223.3,26.1 223.8,28.3 224.3,30.6 224.8,33.4 225.3,37 225.8,42.7 226.3,49.3 226.8,55.6 227.3,60.2 227.8,63.6 228.3,66.6 228.8,69.8 229.3,73.8 229.8,79.1 230.3,84.3 230.8,87.6 231.3,90 231.8,92.1 232.3,93.9 232.8,95.5 233.3,97 233.8,98.5 234.3,100 234.8,101.5 235.3,103 235.8,104.4 236.3,105.8 236.8,107.1 237.3,108.3 237.8,109.4 238.3,110.5 238.8,111.4 239.3,112.2 239.8,113 240.3,113.7 240.8,114.4 241.3,115.1 241.8,115.7 242.3,116.3 242.8,116.9 243.3,117.4 243.8,117.9 244.3,118.3 244.8,118.7 245.3,119.1 245.8,119.4 246.3,119.8 246.8,120.1 247.3,120.4 247.8,120.6 248.3,120.9 248.8,121.2 249.3,121.4 249.8,121.6 250.3,121.8 250.8,121.9 251.3,122.1 251.8,122.2 252.3,122.4 252.8,122.5 253.3,122.6 253.8,122.7 254.3,122.8 254.8,123 255.3,123.1 255.8,123.2 256.3,123.2 256.8,123.3 257.3,123.4 257.8,123.5 258.3,123.5 258.8,123.6 259.3,123.6 259.8,123.7 260.3,123.7 260.8,123.7 260.8,123.8" fill="#e6d5a1" /><polygon points="189.3,123.8 189.3,123.7 189.8,123.7 190.3,123.7 190.8,123.6 191.3,123.6 191.8,123.5 192.3,123.5 192.8,123.4 193.3,123.4 193.8,123.3 194.3,123.3 194.8,123.2 195.3,123.1 195.8,123 196.3,122.9 196.8,122.9 197.3,122.8 197.8,122.7 198.3,122.6 198.8,122.5 199.3,122.4 199.8,122.3 200.3,122.1 200.8,122 201.3,121.9 201.8,121.8 202.3,121.6 202.8,121.5 203.3,121.3 203.8,121.1 204.3,120.9 204.8,120.7 205.3,120.5 205.8,120.3 206.3,120.1 206.8,119.8 207.3,119.5 207.8,119.3 208.3,119 208.8,118.7 209.3,118.4 209.8,118 210.3,117.6 210.8,117.2 211.3,116.7 211.8,116.2 212.3,115.7 212.8,115.2 213.3,114.6 213.8,113.9 214.3,113.2 214.8,112.5 215.3,111.7 215.8,110.8 216.3,109.6 216.8,108.3 217.3,106.8 217.8,105.3 218.3,103.6 218.8,101.9 219.3,100.2 219.8,98.5 220.3,96.9 220.8,95.3 221.3,93.6 221.8,91.7 222.3,89.6 222.8,87.1 223.3,83.5 223.8,78.4 224.3,73.5 224.8,70.1 225.3,67.6 225.8,65.4 226.3,63.2 226.8,60.5 227.3,57.1 227.8,52.2 228.3,46.5 228.8,40.6 229.3,35 229.8,29.5 230.3,26.5 230.8,27.9 231.3,29.2 231.8,30.4 232.3,31.7 232.8,33 233.3,34.7 233.8,36.6 234.3,38.7 234.8,41.1 235.3,43.5 235.8,46.2 236.3,48.9 236.8,51.6 237.3,54.4 237.8,57.2 238.3,60 238.8,62.6 239.3,65.4 239.8,68.2 240.3,71.3 240.8,75.1 241.3,79.5 241.8,83.8 242.3,87.1 242.8,89.7 243.3,92 243.8,94.1 244.3,96 244.8,97.8 245.3,99.5 245.8,101.2 246.3,102.9 246.8,104.5 247.3,106 247.8,107.5 248.3,108.8 248.8,110 249.3,111.1 249.8,112.1 250.3,112.9 250.8,113.8 251.3,114.5 251.8,115.3 252.3,116 252.8,116.6 253.3,117.2 253.8,117.7 254.3,118.2 254.8,118.7 255.3,119.1 255.8,119.5 256.3,119.9 256.8,120.2 257.3,120.5 257.8,120.8 258.3,121.1 258.8,121.3 259.3,121.6 259.8,121.8 260.3,122 260.8,122.1 261.3,122.3 261.8,122.4 262.3,122.6 262.8,122.7 263.3,122.8 263.8,123 264.3,123.1 264.8,123.2 265.3,123.3 265.8,123.4 266.3,123.5 266.8,123.5 267.3,123.6 267.8,123.6 268.3,123.7 268.8,123.7 268.8,123.8" fill="#cdabef" /><polygon points="189.3,123.8 189.3,123.7 189.8,123.7 190.3,123.7 190.8,123.6 191.3,123.6 191.8,123.5 192.3,123.5 192.8,123.4 193.3,123.4 193.8,123.3 194.3,123.3 194.8,123.2 195.3,123.1 195.8,123 196.3,122.9 196.8,122.9 197.3,122.8 197.8,122.7 198.3,122.6 198.8,122.5 199.3,122.4 199.8,122.3 200.3,122.1 200.8,122 201.3,121.9 201.8,121.8 202.3,121.6 202.8,121.5 203.3,121.3 203.8,121.1 204.3,120.9 204.8,120.7 205.3,120.5 205.8,120.3 206.3,120.1 206.8,119.8 207.3,119.5 207.8,119.3 208.3,119 208.8,118.7 209.3,118.4 209.8,118 210.3,117.6 210.8,117.2 211.3,116.7 211.8,116.2 212.3,115.7 212.8,115.2 213.3,114.6 213.8,113.9 214.3,113.2 214.8,112.5 215.3,111.7 215.8,110.8 216.3,109.6 216.8,108.3 217.3,106.8 217.8,105.3 218.3,103.6 218.8,101.9 219.3,100.2 219.8,98.5 220.3,96.9 220.8,95.3 221.3,93.6 221.8,91.7 222.3,89.6 222.8,87.1 223.3,83.5 223.8,78.4 224.3,73.5 224.8,70.1 225.3,67.6 225.8,65.4 226.3,63.2 226.8,60.5 227.3,60.2 227.8,63.6 228.3,66.6 228.8,69.8 229.3,73.8 229.8,79.1 230.3,84.3 230.8,87.6 231.3,90 231.8,92.1 232.3,93.9 232.8,95.5 233.3,97 233.8,98.5 234.3,100 234.8,101.5 235.3,103 235.8,104.4 236.3,105.8 236.8,107.1 237.3,108.3 237.8,109.4 238.3,110.5 238.8,111.4 239.3,112.2 239.8,113 240.3,113.7 240.8,114.4 241.3,115.1 241.8,115.7 242.3,116.3 242.8,116.9 243.3,117.4 243.8,117.9 244.3,118.3 244.8,118.7 245.3,119.1 245.8,119.4 246.3,119.8 246.8,120.1 247.3,120.4 247.8,120.6 248.3,120.9 248.8,121.2 249.3,121.4 249.8,121.6 250.3,121.8 250.8,121.9 251.3,122.1 251.8,122.2 252.3,122.4 252.8,122.5 253.3,122.6 253.8,122.7 254.3,122.8 254.8,123 255.3,123.1 255.8,123.2 256.3,123.2 256.8,123.3 257.3,123.4 257.8,123.5 258.3,123.5 258.8,123.6 259.3,123.6 259.8,123.7 260.3,123.7 260.8,123.7 260.8,123.8" fill="#dea6c8" /><polygon points="189.3,123.8 189.3,123.7 189.8,123.7 190.3,123.7 190.8,123.6 191.3,123.6 191.8,123.5 192.3,123.5 192.8,123.4 193.3,123.4 193.8,123.3 194.3,123.3 194.8,123.2 195.3,123.1 195.8,123 196.3,122.9 196.8,122.9 197.3,122.8 197.8,122.7 198.3,122.6 198.8,122.5 199.3,122.4 199.8,122.3 200.3,122.1 200.8,122 201.3,121.9 201.8,121.8 202.3,121.6 202.8,121.5 203.3,121.3 203.8,121.1 204.3,120.9 204.8,120.7 205.3,120.5 205.8,120.3 206.3,120.1 206.8,119.8 207.3,119.5 207.8,119.3 208.3,119 208.8,118.7 209.3,118.4 209.8,118 210.3,117.6 210.8,117.2 211.3,116.7 211.8,116.2 212.3,115.7 212.8,115.2 213.3,114.6 213.8,113.9 214.3,113.2 214.8,112.5 215.3,111.7 215.8,110.8 216.3,109.6 216.8,108.3 217.3,106.8 217.8,105.3 218.3,103.6 218.8,101.9 219.3,100.2 219.8,98.5 220.3,96.9 220.8,95.3 221.3,93.6 221.8,91.7 222.3,89.6 222.8,87.1 223.3,83.5 223.8,78.4 224.3,73.5 224.8,70.1 225.3,67.6 225.8,65.4 226.3,63.2 226.8,60.5 227.3,60.2 227.8,63.6 228.3,66.6 228.8,69.8 229.3,73.8 229.8,79.1 230.3,84.3 230.8,87.6 231.3,90 231.8,92.1 232.3,93.9 232.8,95.5 233.3,97 233.8,98.5 234.3,100 234.8,101.5 235.3,103 235.8,104.4 236.3,105.8 236.8,107.1 237.3,108.3 237.8,109.4 238.3,110.5 238.8,111.4 239.3,112.2 239.8,113 240.3,113.7 240.8,114.4 241.3,115.1 241.8,115.7 242.3,116.3 242.8,116.9 243.3,117.4 243.8,117.9 244.3,118.3 244.8,118.7 245.3,119.1 245.8,119.4 246.3,119.8 246.8,120.1 247.3,120.4 247.8,120.6 248.3,120.9 248.8,121.2 249.3,121.4 249.8,121.6 250.3,121.8 250.8,121.9 251.3,122.1 251.8,122.2 252.3,122.4 252.8,122.5 253.3,122.6 253.8,122.7 254.3,122.8 254.8,123 255.3,123.1 255.8,123.2 256.3,123.2 256.8,123.3 257.3,123.4 257.8,123.5 258.3,123.5 258.8,123.6 259.3,123.6 259.8,123.7 260.3,123.7 260.8,123.7 260.8,123.8" fill="#d09bbe" /><clipPath id="u1"><polygon points="175.8,123.8 175.8,123.8 176.3,123.7 176.8,123.6 177.3,123.5 177.8,123.5 178.3,123.4 178.8,123.3 179.3,123.1 179.8,123 180.3,122.9 180.8,122.8 181.3,122.6 181.8,122.5 182.3,122.3 182.8,122.2 183.3,122 183.8,121.9 184.3,121.7 184.8,121.5 185.3,121.3 185.8,121.2 186.3,121 186.8,120.8 187.3,120.6 187.8,120.4 188.3,120.1 188.8,119.9 189.3,119.6 189.8,119.3 190.3,119 190.8,118.7 191.3,118.4 191.8,118 192.3,117.6 192.8,117.2 193.3,116.7 193.8,116.3 194.3,115.7 194.8,115.2 195.3,114.6 195.8,114 196.3,113.3 196.8,112.6 197.3,111.9 197.8,111.1 198.3,110.2 198.8,109.2 199.3,108 199.8,106.8 200.3,105.5 200.8,104.1 201.3,102.7 201.8,101.1 202.3,99.5 202.8,97.8 203.3,95.9 203.8,93.7 204.3,91.3 204.8,88.7 205.3,85.9 205.8,82.7 206.3,79.1 206.8,75.2 207.3,71.2 207.8,66.7 208.3,62.1 208.8,58.3 209.3,54.8 209.8,51.6 210.3,48.5 210.8,45.5 211.3,42.6 211.8,39.5 212.3,36.3 212.8,32.9 213.3,29.1 213.8,25.5 214.3,22.3 214.8,19.5 215.3,17 215.8,14.9 216.3,13 216.8,11 217.3,9.3 217.8,8 218.3,7.4 218.8,7.7 219.3,8.7 219.8,10.3 220.3,12.2 220.8,14.1 221.3,16.2 221.8,18.7 222.3,20 222.8,17.9 223.3,15.9 223.8,13.8 224.3,12.1 224.8,10.7 225.3,10 225.8,10.1 226.3,11.4 226.8,13.4 227.3,15.8 227.8,18 228.3,19.7 228.8,21.5 229.3,23.2 229.8,24.9 230.3,24.4 230.8,20.9 231.3,18 231.8,15.7 232.3,14.3 232.8,13.3 233.3,12.4 233.8,11.6 234.3,10.9 234.8,10.4 235.3,10.1 235.8,9.9 236.3,10 236.8,10.2 237.3,10.7 237.8,11.4 238.3,12.3 238.8,13.3 239.3,14.5 239.8,16.5 240.3,19.8 240.8,23.8 241.3,29.7 241.8,35.4 242.3,39.4 242.8,42.8 243.3,45.9 243.8,48.7 244.3,51.5 244.8,54.4 245.3,57.6 245.8,61.3 246.3,65.7 246.8,70.3 247.3,74.5 247.8,78.6 248.3,82.5 248.8,85.9 249.3,88.8 249.8,91.5 250.3,94 250.8,96.2 251.3,98.1 251.8,99.9 252.3,101.6 252.8,103.2 253.3,104.7 253.8,106.2 254.3,107.5 254.8,108.8 255.3,109.9 255.8,110.9 256.3,111.9 256.8,112.8 257.3,113.6 257.8,114.4 258.3,115.1 258.8,115.8 259.3,116.5 259.8,117.1 260.3,117.6 260.8,118.1 261.3,118.6 261.8,119 262.3,119.4 262.8,119.8 263.3,120.2 263.8,120.5 264.3,120.8 264.8,121.1 265.3,121.3 265.8,121.6 266.3,121.8 266.8,122 267.3,122.1 267.8,122.3 268.3,122.4 268.8,122.5 269.3,122.6 269.8,122.7 270.3,122.8 270.8,122.9 271.3,123 271.8,123.1 272.3,123.2 272.8,123.2 273.3,123.3 273.8,123.4 274.3,123.4 274.8,123.5 275.3,123.5 275.8,123.6 276.3,123.6 276.8,123.6 277.3,123.7 277.8,123.7 278.3,123.7 278.3,123.8"/></clipPath><g clip-path="url(#u1)"><line x1="167.95" x2="167.95" y1="1.4" y2="129.5" stroke="#000" stroke-opacity="0.032" stroke-width="1.07"/><line x1="182.54" x2="182.54" y1="1.4" y2="129.5" stroke="#000" stroke-opacity="0.022" stroke-width="0.53"/><line x1="197.12" x2="197.12" y1="1.4" y2="129.5" stroke="#000" stroke-opacity="0.032" stroke-width="1.07"/><line x1="211.71" x2="211.71" y1="1.4" y2="129.5" stroke="#000" stroke-opacity="0.022" stroke-width="0.53"/><line x1="226.3" x2="226.3" y1="1.4" y2="129.5" stroke="#000" stroke-opacity="0.032" stroke-width="1.07"/><line x1="240.89" x2="240.89" y1="1.4" y2="129.5" stroke="#000" stroke-opacity="0.022" stroke-width="0.53"/><line x1="255.48" x2="255.48" y1="1.4" y2="129.5" stroke="#000" stroke-opacity="0.032" stroke-width="1.07"/><line x1="270.06" x2="270.06" y1="1.4" y2="129.5" stroke="#000" stroke-opacity="0.022" stroke-width="0.53"/><line x1="284.65" x2="284.65" y1="1.4" y2="129.5" stroke="#000" stroke-opacity="0.032" stroke-width="1.07"/><line x1="162.3" x2="290.5" y1="123.35" y2="123.35" stroke="#000" stroke-opacity="0.032" stroke-width="1.07"/><line x1="162.3" x2="290.5" y1="101.55" y2="101.55" stroke="#000" stroke-opacity="0.022" stroke-width="0.53"/><line x1="162.3" x2="290.5" y1="79.75" y2="79.75" stroke="#000" stroke-opacity="0.032" stroke-width="1.07"/><line x1="162.3" x2="290.5" y1="57.95" y2="57.95" stroke="#000" stroke-opacity="0.022" stroke-width="0.53"/><line x1="162.3" x2="290.5" y1="36.15" y2="36.15" stroke="#000" stroke-opacity="0.032" stroke-width="1.07"/><line x1="162.3" x2="290.5" y1="14.35" y2="14.35" stroke="#000" stroke-opacity="0.022" stroke-width="0.53"/></g><text x="226.3" y="44.11" font-size="8.4" font-style="italic" text-anchor="middle" fill="#111" stroke="#111" stroke-width="0.2">Unl - Con</text><text x="226.3" y="56.01" font-size="8.4" font-style="italic" text-anchor="middle" fill="#111" stroke="#111" stroke-width="0.2">95% HDI = [-0.09 - 0.27]</text><text x="226.3" y="87.91" font-size="8.4" font-style="italic" text-anchor="middle" fill="#111" stroke="#111" stroke-width="0.2">Lim - Con</text><text x="226.3" y="100.01" font-size="8.4" font-style="italic" text-anchor="middle" fill="#111" stroke="#111" stroke-width="0.2">95% HDI = [-0.24 - 0.12]</text><text x="167.95" y="140.9" font-size="9.2" text-anchor="middle" fill="#4d4d4d" stroke="#4d4d4d" stroke-width="0.25">-0.50</text><text x="197.12" y="140.9" font-size="9.2" text-anchor="middle" fill="#4d4d4d" stroke="#4d4d4d" stroke-width="0.25">-0.25</text><text x="226.3" y="140.9" font-size="9.2" text-anchor="middle" fill="#4d4d4d" stroke="#4d4d4d" stroke-width="0.25">0.00</text><text x="255.48" y="140.9" font-size="9.2" text-anchor="middle" fill="#4d4d4d" stroke="#4d4d4d" stroke-width="0.25">0.25</text><text x="284.65" y="140.9" font-size="9.2" text-anchor="middle" fill="#4d4d4d" stroke="#4d4d4d" stroke-width="0.25">0.50</text><text x="226.3" y="154.1" font-size="11.5" text-anchor="middle" fill="#111" stroke="#111" stroke-width="0.2">Empathic reactions</text><text x="226.3" y="167" font-size="11.5" text-anchor="middle" fill="#111" stroke="#111" stroke-width="0.2">(z-scored)</text></g><g><line x1="324.75" x2="324.75" y1="1.4" y2="129.5" stroke="#ebebeb" stroke-width="1.07"/><line x1="339.34" x2="339.34" y1="1.4" y2="129.5" stroke="#ebebeb" stroke-width="0.53"/><line x1="353.93" x2="353.93" y1="1.4" y2="129.5" stroke="#ebebeb" stroke-width="1.07"/><line x1="368.51" x2="368.51" y1="1.4" y2="129.5" stroke="#ebebeb" stroke-width="0.53"/><line x1="383.1" x2="383.1" y1="1.4" y2="129.5" stroke="#ebebeb" stroke-width="1.07"/><line x1="397.69" x2="397.69" y1="1.4" y2="129.5" stroke="#ebebeb" stroke-width="0.53"/><line x1="412.28" x2="412.28" y1="1.4" y2="129.5" stroke="#ebebeb" stroke-width="1.07"/><line x1="426.86" x2="426.86" y1="1.4" y2="129.5" stroke="#ebebeb" stroke-width="0.53"/><line x1="441.45" x2="441.45" y1="1.4" y2="129.5" stroke="#ebebeb" stroke-width="1.07"/><line x1="318.8" x2="447" y1="123.35" y2="123.35" stroke="#ebebeb" stroke-width="1.07"/><line x1="318.8" x2="447" y1="108.35" y2="108.35" stroke="#ebebeb" stroke-width="0.53"/><line x1="318.8" x2="447" y1="93.35" y2="93.35" stroke="#ebebeb" stroke-width="1.07"/><line x1="318.8" x2="447" y1="78.35" y2="78.35" stroke="#ebebeb" stroke-width="0.53"/><line x1="318.8" x2="447" y1="63.35" y2="63.35" stroke="#ebebeb" stroke-width="1.07"/><line x1="318.8" x2="447" y1="48.35" y2="48.35" stroke="#ebebeb" stroke-width="0.53"/><line x1="318.8" x2="447" y1="33.35" y2="33.35" stroke="#ebebeb" stroke-width="1.07"/><line x1="318.8" x2="447" y1="18.35" y2="18.35" stroke="#ebebeb" stroke-width="0.53"/><line x1="318.8" x2="447" y1="3.35" y2="3.35" stroke="#ebebeb" stroke-width="1.07"/><polygon points="344.8,123.8 344.8,123.7 345.3,123.7 345.8,123.7 346.3,123.7 346.8,123.7 347.3,123.7 347.8,123.6 348.3,123.6 348.8,123.6 349.3,123.5 349.8,123.5 350.3,123.4 350.8,123.3 351.3,123.1 351.8,123 352.3,122.7 352.8,122.3 353.3,121.9 353.8,121.2 354.3,120.3 354.8,119.1 355.3,117.5 355.8,115.4 356.3,112.8 356.8,109.5 357.3,105.4 357.8,100.4 358.3,94.5 358.8,87.8 359.3,80.2 359.8,71.8 360.3,62.9 360.8,53.6 361.3,44.3 361.8,35.4 362.3,27 362.8,19.8 363.3,14 363.8,9.8 364.3,7.6 364.8,7.4 365.3,9.2 365.8,13 366.3,18.5 366.8,25.5 367.3,33.6 367.8,42.5 368.3,51.8 368.8,61.1 369.3,70.1 369.8,78.6 370.3,86.3 370.8,93.3 371.3,99.3 371.8,104.4 372.3,108.7 372.8,112.2 373.3,115 373.8,117.1 374.3,118.8 374.8,120.1 375.3,121 375.8,121.7 376.3,122.3 376.8,122.6 377.3,122.9 377.8,123.1 378.3,123.3 378.8,123.4 379.3,123.4 379.8,123.5 380.3,123.6 380.8,123.6 381.3,123.6 381.8,123.6 382.3,123.7 382.8,123.7 383.3,123.7 383.8,123.7 384.3,123.7 384.3,123.8" fill="#e4e5e4" /><polygon points="367.8,123.8 367.8,123.7 368.3,123.7 368.8,123.7 369.3,123.7 369.8,123.7 370.3,123.6 370.8,123.6 371.3,123.6 371.8,123.6 372.3,123.5 372.8,123.4 373.3,123.4 373.8,123.3 374.3,123.1 374.8,122.9 375.3,122.7 375.8,122.4 376.3,121.9 376.8,121.2 377.3,120.4 377.8,119.3 378.3,117.8 378.8,115.8 379.3,113.4 379.8,110.3 380.3,106.5 380.8,101.9 381.3,96.4 381.8,90.2 382.3,83.1 382.8,75.2 383.3,66.8 383.8,58 384.3,49 384.8,40.1 385.3,31.8 385.8,24.2 386.3,17.9 386.8,13 387.3,9.8 387.8,8.4 388.3,9 388.8,11.5 389.3,15.7 389.8,21.5 390.3,28.6 390.8,36.7 391.3,45.4 391.8,54.4 392.3,63.3 392.8,71.9 393.3,80 393.8,87.4 394.3,94 394.8,99.8 395.3,104.7 395.8,108.8 396.3,112.2 396.8,114.9 397.3,117 397.8,118.7 398.3,120 398.8,120.9 399.3,121.7 399.8,122.2 400.3,122.6 400.8,122.9 401.3,123.1 401.8,123.2 402.3,123.3 402.8,123.4 403.3,123.5 403.8,123.5 404.3,123.6 404.8,123.6 405.3,123.6 405.8,123.7 406.3,123.7 406.8,123.7 407.3,123.7 407.8,123.7 407.8,123.8" fill="#f2e5b4" /><polygon points="360.3,123.8 360.3,123.7 360.8,123.7 361.3,123.7 361.8,123.7 362.3,123.7 362.8,123.7 363.3,123.6 363.8,123.6 364.3,123.6 364.8,123.5 365.3,123.5 365.8,123.4 366.3,123.3 366.8,123.2 367.3,123 367.8,122.8 368.3,122.6 368.8,122.2 369.3,121.7 369.8,121 370.3,120 370.8,118.8 371.3,117.2 371.8,115.2 372.3,112.7 372.8,109.5 373.3,105.6 373.8,101 374.3,95.6 374.8,89.3 375.3,82.3 375.8,74.6 376.3,66.3 376.8,57.6 377.3,48.8 377.8,40.2 378.3,32 378.8,24.5 379.3,18.2 379.8,13.2 380.3,9.8 380.8,8.1 381.3,8.3 381.8,10.3 382.3,14.1 382.8,19.4 383.3,25.9 383.8,33.6 384.3,41.9 384.8,50.6 385.3,59.4 385.8,68 386.3,76.2 386.8,83.8 387.3,90.6 387.8,96.7 388.3,102 388.8,106.4 389.3,110.2 389.8,113.2 390.3,115.7 390.8,117.6 391.3,119.1 391.8,120.2 392.3,121.1 392.8,121.8 393.3,122.3 393.8,122.6 394.3,122.9 394.8,123.1 395.3,123.2 395.8,123.3 396.3,123.4 396.8,123.5 397.3,123.5 397.8,123.6 398.3,123.6 398.8,123.6 399.3,123.7 399.8,123.7 400.3,123.7 400.8,123.7 401.3,123.7 401.8,123.7 401.8,123.8" fill="#dfbefd" /><polygon points="367.8,123.8 367.8,123.7 368.3,123.7 368.8,123.7 369.3,123.7 369.8,123.7 370.3,123.6 370.8,123.6 371.3,123.6 371.8,123.6 372.3,123.5 372.8,123.4 373.3,123.4 373.8,123.3 374.3,123.1 374.8,122.9 375.3,122.7 375.8,122.4 376.3,122.3 376.8,122.6 377.3,122.9 377.8,123.1 378.3,123.3 378.8,123.4 379.3,123.4 379.8,123.5 380.3,123.6 380.8,123.6 381.3,123.6 381.8,123.6 382.3,123.7 382.8,123.7 383.3,123.7 383.8,123.7 384.3,123.7 384.3,123.8" fill="#e6d5a1" /><polygon points="360.3,123.8 360.3,123.7 360.8,123.7 361.3,123.7 361.8,123.7 362.3,123.7 362.8,123.7 363.3,123.6 363.8,123.6 364.3,123.6 364.8,123.5 365.3,123.5 365.8,123.4 366.3,123.3 366.8,123.2 367.3,123 367.8,122.8 368.3,122.6 368.8,122.2 369.3,121.7 369.8,121 370.3,120 370.8,118.8 371.3,117.2 371.8,115.2 372.3,112.7 372.8,112.2 373.3,115 373.8,117.1 374.3,118.8 374.8,120.1 375.3,121 375.8,121.7 376.3,122.3 376.8,122.6 377.3,122.9 377.8,123.1 378.3,123.3 378.8,123.4 379.3,123.4 379.8,123.5 380.3,123.6 380.8,123.6 381.3,123.6 381.8,123.6 382.3,123.7 382.8,123.7 383.3,123.7 383.8,123.7 384.3,123.7 384.3,123.8" fill="#cdabef" /><polygon points="367.8,123.8 367.8,123.7 368.3,123.7 368.8,123.7 369.3,123.7 369.8,123.7 370.3,123.6 370.8,123.6 371.3,123.6 371.8,123.6 372.3,123.5 372.8,123.4 373.3,123.4 373.8,123.3 374.3,123.1 374.8,122.9 375.3,122.7 375.8,122.4 376.3,121.9 376.8,121.2 377.3,120.4 377.8,119.3 378.3,117.8 378.8,115.8 379.3,113.4 379.8,110.3 380.3,106.5 380.8,101.9 381.3,96.4 381.8,90.2 382.3,83.1 382.8,75.2 383.3,66.8 383.8,58 384.3,49 384.8,50.6 385.3,59.4 385.8,68 386.3,76.2 386.8,83.8 387.3,90.6 387.8,96.7 388.3,102 388.8,106.4 389.3,110.2 389.8,113.2 390.3,115.7 390.8,117.6 391.3,119.1 391.8,120.2 392.3,121.1 392.8,121.8 393.3,122.3 393.8,122.6 394.3,122.9 394.8,123.1 395.3,123.2 395.8,123.3 396.3,123.4 396.8,123.5 397.3,123.5 397.8,123.6 398.3,123.6 398.8,123.6 399.3,123.7 399.8,123.7 400.3,123.7 400.8,123.7 401.3,123.7 401.8,123.7 401.8,123.8" fill="#dea6c8" /><polygon points="367.8,123.8 367.8,123.7 368.3,123.7 368.8,123.7 369.3,123.7 369.8,123.7 370.3,123.6 370.8,123.6 371.3,123.6 371.8,123.6 372.3,123.5 372.8,123.4 373.3,123.4 373.8,123.3 374.3,123.1 374.8,122.9 375.3,122.7 375.8,122.4 376.3,122.3 376.8,122.6 377.3,122.9 377.8,123.1 378.3,123.3 378.8,123.4 379.3,123.4 379.8,123.5 380.3,123.6 380.8,123.6 381.3,123.6 381.8,123.6 382.3,123.7 382.8,123.7 383.3,123.7 383.8,123.7 384.3,123.7 384.3,123.8" fill="#d09bbe" /><clipPath id="u2"><polygon points="344.8,123.8 344.8,123.7 345.3,123.7 345.8,123.7 346.3,123.7 346.8,123.7 347.3,123.7 347.8,123.6 348.3,123.6 348.8,123.6 349.3,123.5 349.8,123.5 350.3,123.4 350.8,123.3 351.3,123.1 351.8,123 352.3,122.7 352.8,122.3 353.3,121.9 353.8,121.2 354.3,120.3 354.8,119.1 355.3,117.5 355.8,115.4 356.3,112.8 356.8,109.5 357.3,105.4 357.8,100.4 358.3,94.5 358.8,87.8 359.3,80.2 359.8,71.8 360.3,62.9 360.8,53.6 361.3,44.3 361.8,35.4 362.3,27 362.8,19.8 363.3,14 363.8,9.8 364.3,7.6 364.8,7.4 365.3,9.2 365.8,13 366.3,18.5 366.8,25.5 367.3,33.6 367.8,42.5 368.3,51.8 368.8,61.1 369.3,70.1 369.8,78.6 370.3,86.3 370.8,93.3 371.3,99.3 371.8,104.4 372.3,108.7 372.8,109.5 373.3,105.6 373.8,101 374.3,95.6 374.8,89.3 375.3,82.3 375.8,74.6 376.3,66.3 376.8,57.6 377.3,48.8 377.8,40.2 378.3,32 378.8,24.5 379.3,18.2 379.8,13.2 380.3,9.8 380.8,8.1 381.3,8.3 381.8,10.3 382.3,14.1 382.8,19.4 383.3,25.9 383.8,33.6 384.3,41.9 384.8,40.1 385.3,31.8 385.8,24.2 386.3,17.9 386.8,13 387.3,9.8 387.8,8.4 388.3,9 388.8,11.5 389.3,15.7 389.8,21.5 390.3,28.6 390.8,36.7 391.3,45.4 391.8,54.4 392.3,63.3 392.8,71.9 393.3,80 393.8,87.4 394.3,94 394.8,99.8 395.3,104.7 395.8,108.8 396.3,112.2 396.8,114.9 397.3,117 397.8,118.7 398.3,120 398.8,120.9 399.3,121.7 399.8,122.2 400.3,122.6 400.8,122.9 401.3,123.1 401.8,123.2 402.3,123.3 402.8,123.4 403.3,123.5 403.8,123.5 404.3,123.6 404.8,123.6 405.3,123.6 405.8,123.7 406.3,123.7 406.8,123.7 407.3,123.7 407.8,123.7 407.8,123.8"/></clipPath><g clip-path="url(#u2)"><line x1="324.75" x2="324.75" y1="1.4" y2="129.5" stroke="#000" stroke-opacity="0.032" stroke-width="1.07"/><line x1="339.34" x2="339.34" y1="1.4" y2="129.5" stroke="#000" stroke-opacity="0.022" stroke-width="0.53"/><line x1="353.93" x2="353.93" y1="1.4" y2="129.5" stroke="#000" stroke-opacity="0.032" stroke-width="1.07"/><line x1="368.51" x2="368.51" y1="1.4" y2="129.5" stroke="#000" stroke-opacity="0.022" stroke-width="0.53"/><line x1="383.1" x2="383.1" y1="1.4" y2="129.5" stroke="#000" stroke-opacity="0.032" stroke-width="1.07"/><line x1="397.69" x2="397.69" y1="1.4" y2="129.5" stroke="#000" stroke-opacity="0.022" stroke-width="0.53"/><line x1="412.28" x2="412.28" y1="1.4" y2="129.5" stroke="#000" stroke-opacity="0.032" stroke-width="1.07"/><line x1="426.86" x2="426.86" y1="1.4" y2="129.5" stroke="#000" stroke-opacity="0.022" stroke-width="0.53"/><line x1="441.45" x2="441.45" y1="1.4" y2="129.5" stroke="#000" stroke-opacity="0.032" stroke-width="1.07"/><line x1="318.8" x2="447" y1="123.35" y2="123.35" stroke="#000" stroke-opacity="0.032" stroke-width="1.07"/><line x1="318.8" x2="447" y1="108.35" y2="108.35" stroke="#000" stroke-opacity="0.022" stroke-width="0.53"/><line x1="318.8" x2="447" y1="93.35" y2="93.35" stroke="#000" stroke-opacity="0.032" stroke-width="1.07"/><line x1="318.8" x2="447" y1="78.35" y2="78.35" stroke="#000" stroke-opacity="0.022" stroke-width="0.53"/><line x1="318.8" x2="447" y1="63.35" y2="63.35" stroke="#000" stroke-opacity="0.032" stroke-width="1.07"/><line x1="318.8" x2="447" y1="48.35" y2="48.35" stroke="#000" stroke-opacity="0.022" stroke-width="0.53"/><line x1="318.8" x2="447" y1="33.35" y2="33.35" stroke="#000" stroke-opacity="0.032" stroke-width="1.07"/><line x1="318.8" x2="447" y1="18.35" y2="18.35" stroke="#000" stroke-opacity="0.022" stroke-width="0.53"/><line x1="318.8" x2="447" y1="3.35" y2="3.35" stroke="#000" stroke-opacity="0.032" stroke-width="1.07"/></g><text x="383.1" y="45.31" font-size="8.4" font-style="italic" text-anchor="middle" fill="#111" stroke="#111" stroke-width="0.2">Unl - Con</text><text x="383.1" y="57.31" font-size="8.4" font-style="italic" text-anchor="middle" fill="#111" stroke="#111" stroke-width="0.2">95% HDI = [0.04 - 0.23]</text><text x="383.1" y="85.71" font-size="8.4" font-style="italic" text-anchor="middle" fill="#111" stroke="#111" stroke-width="0.2">Lim - Con</text><text x="383.1" y="97.21" font-size="8.4" font-style="italic" text-anchor="middle" fill="#111" stroke="#111" stroke-width="0.2">95% HDI = [0.1 - 0.29]</text><text x="324.75" y="140.9" font-size="9.2" text-anchor="middle" fill="#4d4d4d" stroke="#4d4d4d" stroke-width="0.25">-0.50</text><text x="353.93" y="140.9" font-size="9.2" text-anchor="middle" fill="#4d4d4d" stroke="#4d4d4d" stroke-width="0.25">-0.25</text><text x="383.1" y="140.9" font-size="9.2" text-anchor="middle" fill="#4d4d4d" stroke="#4d4d4d" stroke-width="0.25">0.00</text><text x="412.28" y="140.9" font-size="9.2" text-anchor="middle" fill="#4d4d4d" stroke="#4d4d4d" stroke-width="0.25">0.25</text><text x="441.45" y="140.9" font-size="9.2" text-anchor="middle" fill="#4d4d4d" stroke="#4d4d4d" stroke-width="0.25">0.50</text><text x="383.1" y="154.1" font-size="11.5" text-anchor="middle" fill="#111" stroke="#111" stroke-width="0.2">Empathic drivers</text><text x="383.1" y="167" font-size="11.5" text-anchor="middle" fill="#111" stroke="#111" stroke-width="0.2">(z-scored)</text></g><g><line x1="481.55" x2="481.55" y1="1.4" y2="129.5" stroke="#ebebeb" stroke-width="1.07"/><line x1="496.14" x2="496.14" y1="1.4" y2="129.5" stroke="#ebebeb" stroke-width="0.53"/><line x1="510.72" x2="510.72" y1="1.4" y2="129.5" stroke="#ebebeb" stroke-width="1.07"/><line x1="525.31" x2="525.31" y1="1.4" y2="129.5" stroke="#ebebeb" stroke-width="0.53"/><line x1="539.9" x2="539.9" y1="1.4" y2="129.5" stroke="#ebebeb" stroke-width="1.07"/><line x1="554.49" x2="554.49" y1="1.4" y2="129.5" stroke="#ebebeb" stroke-width="0.53"/><line x1="569.07" x2="569.07" y1="1.4" y2="129.5" stroke="#ebebeb" stroke-width="1.07"/><line x1="583.66" x2="583.66" y1="1.4" y2="129.5" stroke="#ebebeb" stroke-width="0.53"/><line x1="598.25" x2="598.25" y1="1.4" y2="129.5" stroke="#ebebeb" stroke-width="1.07"/><line x1="475.6" x2="603.8" y1="123.35" y2="123.35" stroke="#ebebeb" stroke-width="1.07"/><line x1="475.6" x2="603.8" y1="108.65" y2="108.65" stroke="#ebebeb" stroke-width="0.53"/><line x1="475.6" x2="603.8" y1="93.95" y2="93.95" stroke="#ebebeb" stroke-width="1.07"/><line x1="475.6" x2="603.8" y1="79.25" y2="79.25" stroke="#ebebeb" stroke-width="0.53"/><line x1="475.6" x2="603.8" y1="64.55" y2="64.55" stroke="#ebebeb" stroke-width="1.07"/><line x1="475.6" x2="603.8" y1="49.85" y2="49.85" stroke="#ebebeb" stroke-width="0.53"/><line x1="475.6" x2="603.8" y1="35.15" y2="35.15" stroke="#ebebeb" stroke-width="1.07"/><line x1="475.6" x2="603.8" y1="20.45" y2="20.45" stroke="#ebebeb" stroke-width="0.53"/><line x1="475.6" x2="603.8" y1="5.75" y2="5.75" stroke="#ebebeb" stroke-width="1.07"/><polygon points="513.1,123.8 513.1,123.7 513.6,123.7 514.1,123.7 514.6,123.7 515.1,123.7 515.6,123.6 516.1,123.6 516.6,123.6 517.1,123.6 517.6,123.5 518.1,123.4 518.6,123.4 519.1,123.3 519.6,123.1 520.1,123 520.6,122.7 521.1,122.4 521.6,121.9 522.1,121.3 522.6,120.5 523.1,119.4 523.6,118 524.1,116.1 524.6,113.8 525.1,110.8 525.6,107.2 526.1,102.8 526.6,97.6 527.1,91.6 527.6,84.7 528.1,77.1 528.6,68.9 529.1,60.2 529.6,51.3 530.1,42.4 530.6,33.9 531.1,26.1 531.6,19.4 532.1,13.9 532.6,10.1 533.1,8 533.6,7.9 534.1,9.5 534.6,13 535.1,18.2 535.6,24.7 536.1,32.3 536.6,40.7 537.1,49.5 537.6,58.4 538.1,67.2 538.6,75.5 539.1,83.3 539.6,90.3 540.1,96.5 540.6,101.8 541.1,106.4 541.6,110.2 542.1,113.2 542.6,115.7 543.1,117.6 543.6,119.2 544.1,120.3 544.6,121.2 545.1,121.8 545.6,122.3 546.1,122.7 546.6,122.9 547.1,123.1 547.6,123.2 548.1,123.3 548.6,123.4 549.1,123.5 549.6,123.5 550.1,123.6 550.6,123.6 551.1,123.6 551.6,123.7 552.1,123.7 552.6,123.7 553.1,123.7 553.6,123.7 553.6,123.8" fill="#e4e5e4" /><polygon points="523.6,123.8 523.6,123.7 524.1,123.7 524.6,123.7 525.1,123.7 525.6,123.7 526.1,123.6 526.6,123.6 527.1,123.6 527.6,123.5 528.1,123.5 528.6,123.4 529.1,123.3 529.6,123.1 530.1,123 530.6,122.7 531.1,122.4 531.6,121.9 532.1,121.2 532.6,120.3 533.1,119.1 533.6,117.4 534.1,115.3 534.6,112.6 535.1,109.2 535.6,105 536.1,99.9 536.6,94 537.1,87.2 537.6,79.5 538.1,71.1 538.6,62.2 539.1,53.1 539.6,44 540.1,35.4 540.6,27.6 541.1,20.9 541.6,15.7 542.1,12.4 542.6,10.9 543.1,11.6 543.6,14.2 544.1,18.6 544.6,24.7 545.1,32.2 545.6,40.5 546.1,49.5 546.6,58.6 547.1,67.6 547.6,76.2 548.1,84.2 548.6,91.4 549.1,97.7 549.6,103.1 550.1,107.6 550.6,111.3 551.1,114.3 551.6,116.6 552.1,118.5 552.6,119.8 553.1,120.9 553.6,121.6 554.1,122.2 554.6,122.6 555.1,122.9 555.6,123.1 556.1,123.2 556.6,123.4 557.1,123.4 557.6,123.5 558.1,123.6 558.6,123.6 559.1,123.6 559.6,123.6 560.1,123.7 560.6,123.7 561.1,123.7 561.6,123.7 562.1,123.7 562.1,123.8" fill="#f2e5b4" /><polygon points="513.1,123.8 513.1,123.7 513.6,123.7 514.1,123.7 514.6,123.7 515.1,123.7 515.6,123.6 516.1,123.6 516.6,123.6 517.1,123.6 517.6,123.5 518.1,123.4 518.6,123.4 519.1,123.3 519.6,123.1 520.1,123 520.6,122.7 521.1,122.4 521.6,121.9 522.1,121.3 522.6,120.5 523.1,119.4 523.6,118 524.1,116.1 524.6,113.8 525.1,110.8 525.6,107.2 526.1,102.8 526.6,97.6 527.1,91.6 527.6,84.7 528.1,77.1 528.6,68.9 529.1,60.2 529.6,51.3 530.1,42.4 530.6,33.9 531.1,26.1 531.6,19.4 532.1,13.9 532.6,10.1 533.1,8 533.6,7.9 534.1,9.5 534.6,13 535.1,18.2 535.6,24.7 536.1,32.3 536.6,40.7 537.1,49.5 537.6,58.4 538.1,67.2 538.6,75.5 539.1,83.3 539.6,90.3 540.1,96.5 540.6,101.8 541.1,106.4 541.6,110.2 542.1,113.2 542.6,115.7 543.1,117.6 543.6,119.2 544.1,120.3 544.6,121.2 545.1,121.8 545.6,122.3 546.1,122.7 546.6,122.9 547.1,123.1 547.6,123.2 548.1,123.3 548.6,123.4 549.1,123.5 549.6,123.5 550.1,123.6 550.6,123.6 551.1,123.6 551.6,123.7 552.1,123.7 552.6,123.7 553.1,123.7 553.6,123.7 553.6,123.8" fill="#dfbefd" /><polygon points="523.6,123.8 523.6,123.7 524.1,123.7 524.6,123.7 525.1,123.7 525.6,123.7 526.1,123.6 526.6,123.6 527.1,123.6 527.6,123.5 528.1,123.5 528.6,123.4 529.1,123.3 529.6,123.1 530.1,123 530.6,122.7 531.1,122.4 531.6,121.9 532.1,121.2 532.6,120.3 533.1,119.1 533.6,117.4 534.1,115.3 534.6,112.6 535.1,109.2 535.6,105 536.1,99.9 536.6,94 537.1,87.2 537.6,79.5 538.1,71.1 538.6,75.5 539.1,83.3 539.6,90.3 540.1,96.5 540.6,101.8 541.1,106.4 541.6,110.2 542.1,113.2 542.6,115.7 543.1,117.6 543.6,119.2 544.1,120.3 544.6,121.2 545.1,121.8 545.6,122.3 546.1,122.7 546.6,122.9 547.1,123.1 547.6,123.2 548.1,123.3 548.6,123.4 549.1,123.5 549.6,123.5 550.1,123.6 550.6,123.6 551.1,123.6 551.6,123.7 552.1,123.7 552.6,123.7 553.1,123.7 553.6,123.7 553.6,123.8" fill="#e6d5a1" /><polygon points="513.1,123.8 513.1,123.7 513.6,123.7 514.1,123.7 514.6,123.7 515.1,123.7 515.6,123.6 516.1,123.6 516.6,123.6 517.1,123.6 517.6,123.5 518.1,123.4 518.6,123.4 519.1,123.3 519.6,123.1 520.1,123 520.6,122.7 521.1,122.4 521.6,121.9 522.1,121.3 522.6,120.5 523.1,119.4 523.6,118 524.1,116.1 524.6,113.8 525.1,110.8 525.6,107.2 526.1,102.8 526.6,97.6 527.1,91.6 527.6,84.7 528.1,77.1 528.6,68.9 529.1,60.2 529.6,51.3 530.1,42.4 530.6,33.9 531.1,26.1 531.6,19.4 532.1,13.9 532.6,10.1 533.1,8 533.6,7.9 534.1,9.5 534.6,13 535.1,18.2 535.6,24.7 536.1,32.3 536.6,40.7 537.1,49.5 537.6,58.4 538.1,67.2 538.6,75.5 539.1,83.3 539.6,90.3 540.1,96.5 540.6,101.8 541.1,106.4 541.6,110.2 542.1,113.2 542.6,115.7 543.1,117.6 543.6,119.2 544.1,120.3 544.6,121.2 545.1,121.8 545.6,122.3 546.1,122.7 546.6,122.9 547.1,123.1 547.6,123.2 548.1,123.3 548.6,123.4 549.1,123.5 549.6,123.5 550.1,123.6 550.6,123.6 551.1,123.6 551.6,123.7 552.1,123.7 552.6,123.7 553.1,123.7 553.6,123.7 553.6,123.8" fill="#cdabef" /><polygon points="523.6,123.8 523.6,123.7 524.1,123.7 524.6,123.7 525.1,123.7 525.6,123.7 526.1,123.6 526.6,123.6 527.1,123.6 527.6,123.5 528.1,123.5 528.6,123.4 529.1,123.3 529.6,123.1 530.1,123 530.6,122.7 531.1,122.4 531.6,121.9 532.1,121.2 532.6,120.3 533.1,119.1 533.6,117.4 534.1,115.3 534.6,112.6 535.1,109.2 535.6,105 536.1,99.9 536.6,94 537.1,87.2 537.6,79.5 538.1,71.1 538.6,75.5 539.1,83.3 539.6,90.3 540.1,96.5 540.6,101.8 541.1,106.4 541.6,110.2 542.1,113.2 542.6,115.7 543.1,117.6 543.6,119.2 544.1,120.3 544.6,121.2 545.1,121.8 545.6,122.3 546.1,122.7 546.6,122.9 547.1,123.1 547.6,123.2 548.1,123.3 548.6,123.4 549.1,123.5 549.6,123.5 550.1,123.6 550.6,123.6 551.1,123.6 551.6,123.7 552.1,123.7 552.6,123.7 553.1,123.7 553.6,123.7 553.6,123.8" fill="#dea6c8" /><polygon points="523.6,123.8 523.6,123.7 524.1,123.7 524.6,123.7 525.1,123.7 525.6,123.7 526.1,123.6 526.6,123.6 527.1,123.6 527.6,123.5 528.1,123.5 528.6,123.4 529.1,123.3 529.6,123.1 530.1,123 530.6,122.7 531.1,122.4 531.6,121.9 532.1,121.2 532.6,120.3 533.1,119.1 533.6,117.4 534.1,115.3 534.6,112.6 535.1,109.2 535.6,105 536.1,99.9 536.6,94 537.1,87.2 537.6,79.5 538.1,71.1 538.6,75.5 539.1,83.3 539.6,90.3 540.1,96.5 540.6,101.8 541.1,106.4 541.6,110.2 542.1,113.2 542.6,115.7 543.1,117.6 543.6,119.2 544.1,120.3 544.6,121.2 545.1,121.8 545.6,122.3 546.1,122.7 546.6,122.9 547.1,123.1 547.6,123.2 548.1,123.3 548.6,123.4 549.1,123.5 549.6,123.5 550.1,123.6 550.6,123.6 551.1,123.6 551.6,123.7 552.1,123.7 552.6,123.7 553.1,123.7 553.6,123.7 553.6,123.8" fill="#d09bbe" /><clipPath id="u3"><polygon points="513.1,123.8 513.1,123.7 513.6,123.7 514.1,123.7 514.6,123.7 515.1,123.7 515.6,123.6 516.1,123.6 516.6,123.6 517.1,123.6 517.6,123.5 518.1,123.4 518.6,123.4 519.1,123.3 519.6,123.1 520.1,123 520.6,122.7 521.1,122.4 521.6,121.9 522.1,121.3 522.6,120.5 523.1,119.4 523.6,118 524.1,116.1 524.6,113.8 525.1,110.8 525.6,107.2 526.1,102.8 526.6,97.6 527.1,91.6 527.6,84.7 528.1,77.1 528.6,68.9 529.1,60.2 529.6,51.3 530.1,42.4 530.6,33.9 531.1,26.1 531.6,19.4 532.1,13.9 532.6,10.1 533.1,8 533.6,7.9 534.1,9.5 534.6,13 535.1,18.2 535.6,24.7 536.1,32.3 536.6,40.7 537.1,49.5 537.6,58.4 538.1,67.2 538.6,62.2 539.1,53.1 539.6,44 540.1,35.4 540.6,27.6 541.1,20.9 541.6,15.7 542.1,12.4 542.6,10.9 543.1,11.6 543.6,14.2 544.1,18.6 544.6,24.7 545.1,32.2 545.6,40.5 546.1,49.5 546.6,58.6 547.1,67.6 547.6,76.2 548.1,84.2 548.6,91.4 549.1,97.7 549.6,103.1 550.1,107.6 550.6,111.3 551.1,114.3 551.6,116.6 552.1,118.5 552.6,119.8 553.1,120.9 553.6,121.6 554.1,122.2 554.6,122.6 555.1,122.9 555.6,123.1 556.1,123.2 556.6,123.4 557.1,123.4 557.6,123.5 558.1,123.6 558.6,123.6 559.1,123.6 559.6,123.6 560.1,123.7 560.6,123.7 561.1,123.7 561.6,123.7 562.1,123.7 562.1,123.8"/></clipPath><g clip-path="url(#u3)"><line x1="481.55" x2="481.55" y1="1.4" y2="129.5" stroke="#000" stroke-opacity="0.032" stroke-width="1.07"/><line x1="496.14" x2="496.14" y1="1.4" y2="129.5" stroke="#000" stroke-opacity="0.022" stroke-width="0.53"/><line x1="510.72" x2="510.72" y1="1.4" y2="129.5" stroke="#000" stroke-opacity="0.032" stroke-width="1.07"/><line x1="525.31" x2="525.31" y1="1.4" y2="129.5" stroke="#000" stroke-opacity="0.022" stroke-width="0.53"/><line x1="539.9" x2="539.9" y1="1.4" y2="129.5" stroke="#000" stroke-opacity="0.032" stroke-width="1.07"/><line x1="554.49" x2="554.49" y1="1.4" y2="129.5" stroke="#000" stroke-opacity="0.022" stroke-width="0.53"/><line x1="569.07" x2="569.07" y1="1.4" y2="129.5" stroke="#000" stroke-opacity="0.032" stroke-width="1.07"/><line x1="583.66" x2="583.66" y1="1.4" y2="129.5" stroke="#000" stroke-opacity="0.022" stroke-width="0.53"/><line x1="598.25" x2="598.25" y1="1.4" y2="129.5" stroke="#000" stroke-opacity="0.032" stroke-width="1.07"/><line x1="475.6" x2="603.8" y1="123.35" y2="123.35" stroke="#000" stroke-opacity="0.032" stroke-width="1.07"/><line x1="475.6" x2="603.8" y1="108.65" y2="108.65" stroke="#000" stroke-opacity="0.022" stroke-width="0.53"/><line x1="475.6" x2="603.8" y1="93.95" y2="93.95" stroke="#000" stroke-opacity="0.032" stroke-width="1.07"/><line x1="475.6" x2="603.8" y1="79.25" y2="79.25" stroke="#000" stroke-opacity="0.022" stroke-width="0.53"/><line x1="475.6" x2="603.8" y1="64.55" y2="64.55" stroke="#000" stroke-opacity="0.032" stroke-width="1.07"/><line x1="475.6" x2="603.8" y1="49.85" y2="49.85" stroke="#000" stroke-opacity="0.022" stroke-width="0.53"/><line x1="475.6" x2="603.8" y1="35.15" y2="35.15" stroke="#000" stroke-opacity="0.032" stroke-width="1.07"/><line x1="475.6" x2="603.8" y1="20.45" y2="20.45" stroke="#000" stroke-opacity="0.022" stroke-width="0.53"/><line x1="475.6" x2="603.8" y1="5.75" y2="5.75" stroke="#000" stroke-opacity="0.032" stroke-width="1.07"/></g><text x="539.9" y="46.81" font-size="8.4" font-style="italic" text-anchor="middle" fill="#111" stroke="#111" stroke-width="0.2">Unl - Con</text><text x="539.9" y="58.71" font-size="8.4" font-style="italic" text-anchor="middle" fill="#111" stroke="#111" stroke-width="0.2">95% HDI = [-0.09 - 0.1]</text><text x="539.9" y="86.41" font-size="8.4" font-style="italic" text-anchor="middle" fill="#111" stroke="#111" stroke-width="0.2">Lim - Con</text><text x="539.9" y="98.11" font-size="8.4" font-style="italic" text-anchor="middle" fill="#111" stroke="#111" stroke-width="0.2">95% HDI = [-0.01 - -0.17]</text><text x="481.55" y="140.9" font-size="9.2" text-anchor="middle" fill="#4d4d4d" stroke="#4d4d4d" stroke-width="0.25">-0.50</text><text x="510.72" y="140.9" font-size="9.2" text-anchor="middle" fill="#4d4d4d" stroke="#4d4d4d" stroke-width="0.25">-0.25</text><text x="539.9" y="140.9" font-size="9.2" text-anchor="middle" fill="#4d4d4d" stroke="#4d4d4d" stroke-width="0.25">0.00</text><text x="569.07" y="140.9" font-size="9.2" text-anchor="middle" fill="#4d4d4d" stroke="#4d4d4d" stroke-width="0.25">0.25</text><text x="598.25" y="140.9" font-size="9.2" text-anchor="middle" fill="#4d4d4d" stroke="#4d4d4d" stroke-width="0.25">0.50</text><text x="539.9" y="154.1" font-size="11.5" text-anchor="middle" fill="#111" stroke="#111" stroke-width="0.2">Donations</text><text x="539.9" y="167" font-size="11.5" text-anchor="middle" fill="#111" stroke="#111" stroke-width="0.2">(z-scored)</text></g><g><line x1="11.5" x2="11.5" y1="236.9" y2="365.3" stroke="#ebebeb" stroke-width="1.07"/><line x1="26.09" x2="26.09" y1="236.9" y2="365.3" stroke="#ebebeb" stroke-width="0.53"/><line x1="40.67" x2="40.67" y1="236.9" y2="365.3" stroke="#ebebeb" stroke-width="1.07"/><line x1="55.26" x2="55.26" y1="236.9" y2="365.3" stroke="#ebebeb" stroke-width="0.53"/><line x1="69.85" x2="69.85" y1="236.9" y2="365.3" stroke="#ebebeb" stroke-width="1.07"/><line x1="84.44" x2="84.44" y1="236.9" y2="365.3" stroke="#ebebeb" stroke-width="0.53"/><line x1="99.02" x2="99.02" y1="236.9" y2="365.3" stroke="#ebebeb" stroke-width="1.07"/><line x1="113.61" x2="113.61" y1="236.9" y2="365.3" stroke="#ebebeb" stroke-width="0.53"/><line x1="128.2" x2="128.2" y1="236.9" y2="365.3" stroke="#ebebeb" stroke-width="1.07"/><line x1="5.9" x2="134.1" y1="359.3" y2="359.3" stroke="#ebebeb" stroke-width="1.07"/><line x1="5.9" x2="134.1" y1="338.25" y2="338.25" stroke="#ebebeb" stroke-width="0.53"/><line x1="5.9" x2="134.1" y1="317.2" y2="317.2" stroke="#ebebeb" stroke-width="1.07"/><line x1="5.9" x2="134.1" y1="296.15" y2="296.15" stroke="#ebebeb" stroke-width="0.53"/><line x1="5.9" x2="134.1" y1="275.1" y2="275.1" stroke="#ebebeb" stroke-width="1.07"/><line x1="5.9" x2="134.1" y1="254.05" y2="254.05" stroke="#ebebeb" stroke-width="0.53"/><polygon points="29.4,359.7 29.4,359.7 29.9,359.6 30.4,359.6 30.9,359.6 31.4,359.5 31.9,359.5 32.4,359.4 32.9,359.3 33.4,359.3 33.9,359.2 34.4,359.1 34.9,359 35.4,358.8 35.9,358.7 36.4,358.6 36.9,358.4 37.4,358.3 37.9,358.1 38.4,357.9 38.9,357.7 39.4,357.5 39.9,357.3 40.4,357.1 40.9,356.9 41.4,356.7 41.9,356.4 42.4,356.1 42.9,355.7 43.4,355.3 43.9,354.8 44.4,354.3 44.9,353.6 45.4,353 45.9,352.2 46.4,351.4 46.9,350.4 47.4,349.1 47.9,347.7 48.4,346 48.9,344.2 49.4,342.4 49.9,340.5 50.4,338.6 50.9,336.5 51.4,334.3 51.9,332 52.4,329.4 52.9,326.5 53.4,323.3 53.9,319.6 54.4,315.3 54.9,310.2 55.4,304 55.9,296.5 56.4,289.6 56.9,282.8 57.4,276.7 57.9,272 58.4,268.8 58.9,266.1 59.4,263.5 59.9,260.8 60.4,258.4 60.9,256.3 61.4,254.4 61.9,252.4 62.4,250.5 62.9,248.9 63.4,247.6 63.9,246.9 64.4,246.8 64.9,247.8 65.4,249.8 65.9,252.3 66.4,254.9 66.9,257.1 67.4,259.3 67.9,261.5 68.4,263.6 68.9,265.4 69.4,266.8 69.9,268 70.4,269.4 70.9,271 71.4,273 71.9,275.1 72.4,277.4 72.9,279.7 73.4,282.2 73.9,284.7 74.4,287.2 74.9,289.6 75.4,292.1 75.9,294.7 76.4,297.3 76.9,299.6 77.4,301.5 77.9,303.2 78.4,304.8 78.9,306.3 79.4,307.7 79.9,309.2 80.4,310.7 80.9,312.3 81.4,313.8 81.9,315.3 82.4,316.9 82.9,318.5 83.4,320.1 83.9,321.8 84.4,323.6 84.9,325.6 85.4,327.9 85.9,330.3 86.4,332.8 86.9,335.3 87.4,337.5 87.9,339.4 88.4,341 88.9,342.6 89.4,344 89.9,345.4 90.4,346.7 90.9,347.9 91.4,349 91.9,350 92.4,350.9 92.9,351.6 93.4,352.3 93.9,352.9 94.4,353.4 94.9,354 95.4,354.5 95.9,354.9 96.4,355.3 96.9,355.7 97.4,356.1 97.9,356.3 98.4,356.6 98.9,356.8 99.4,357 99.9,357.2 100.4,357.4 100.9,357.6 101.4,357.8 101.9,358 102.4,358.2 102.9,358.3 103.4,358.5 103.9,358.6 104.4,358.8 104.9,358.9 105.4,359 105.9,359.1 106.4,359.2 106.9,359.3 107.4,359.4 107.9,359.4 108.4,359.5 108.9,359.6 109.4,359.6 109.9,359.6 110.4,359.7 110.4,359.7" fill="#e4e5e4" /><polygon points="14.4,359.7 14.4,359.7 14.9,359.7 15.4,359.6 15.9,359.6 16.4,359.6 16.9,359.6 17.4,359.5 17.9,359.5 18.4,359.5 18.9,359.4 19.4,359.4 19.9,359.4 20.4,359.3 20.9,359.3 21.4,359.2 21.9,359.2 22.4,359.1 22.9,359.1 23.4,359 23.9,359 24.4,358.9 24.9,358.9 25.4,358.8 25.9,358.7 26.4,358.7 26.9,358.6 27.4,358.5 27.9,358.4 28.4,358.3 28.9,358.2 29.4,358.1 29.9,358 30.4,357.9 30.9,357.7 31.4,357.6 31.9,357.5 32.4,357.3 32.9,357.1 33.4,357 33.9,356.8 34.4,356.6 34.9,356.4 35.4,356.2 35.9,356 36.4,355.7 36.9,355.4 37.4,355.1 37.9,354.8 38.4,354.5 38.9,354.1 39.4,353.7 39.9,353.2 40.4,352.8 40.9,352.3 41.4,351.7 41.9,351.1 42.4,350.3 42.9,349.3 43.4,348.2 43.9,347 44.4,345.7 44.9,344.3 45.4,342.9 45.9,341.3 46.4,339.8 46.9,338.1 47.4,336.2 47.9,334.1 48.4,331.8 48.9,329.5 49.4,327 49.9,324.5 50.4,322 50.9,319.5 51.4,316.8 51.9,313.8 52.4,310.3 52.9,306 53.4,299.7 53.9,294.8 54.4,291 54.9,287.5 55.4,284.4 55.9,281.5 56.4,278.8 56.9,276 57.4,273.2 57.9,270.2 58.4,267.3 58.9,264.6 59.4,261.8 59.9,259.1 60.4,257 60.9,255.5 61.4,254 61.9,252.7 62.4,251.5 62.9,250.6 63.4,250 63.9,249.9 64.4,250.3 64.9,251.3 65.4,252.6 65.9,254.2 66.4,256 66.9,258.1 67.4,261.2 67.9,264.5 68.4,267.3 68.9,270 69.4,273.8 69.9,279.7 70.4,286.1 70.9,290.6 71.4,293.3 71.9,295.5 72.4,298 72.9,300.3 73.4,302.7 73.9,305.2 74.4,308 74.9,311.6 75.4,315.8 75.9,320 76.4,323.4 76.9,326 77.4,328.3 77.9,330.5 78.4,332.4 78.9,334.2 79.4,335.9 79.9,337.4 80.4,338.9 80.9,340.4 81.4,341.8 81.9,343.3 82.4,344.6 82.9,346 83.4,347.2 83.9,348.4 84.4,349.5 84.9,350.4 85.4,351.2 85.9,351.8 86.4,352.4 86.9,353 87.4,353.4 87.9,353.9 88.4,354.3 88.9,354.7 89.4,355.1 89.9,355.4 90.4,355.8 90.9,356 91.4,356.3 91.9,356.5 92.4,356.8 92.9,357 93.4,357.2 93.9,357.4 94.4,357.6 94.9,357.7 95.4,357.9 95.9,358 96.4,358.2 96.9,358.3 97.4,358.4 97.9,358.5 98.4,358.6 98.9,358.7 99.4,358.8 99.9,358.9 100.4,359 100.9,359 101.4,359.1 101.9,359.2 102.4,359.2 102.9,359.3 103.4,359.3 103.9,359.4 104.4,359.4 104.9,359.5 105.4,359.5 105.9,359.5 106.4,359.6 106.9,359.6 107.4,359.6 107.9,359.7 108.4,359.7 108.4,359.7" fill="#e8b6bc" /><polygon points="30.4,359.7 30.4,359.7 30.9,359.7 31.4,359.6 31.9,359.6 32.4,359.6 32.9,359.5 33.4,359.5 33.9,359.5 34.4,359.4 34.9,359.4 35.4,359.3 35.9,359.3 36.4,359.2 36.9,359.2 37.4,359.1 37.9,359 38.4,359 38.9,358.9 39.4,358.9 39.9,358.8 40.4,358.7 40.9,358.7 41.4,358.6 41.9,358.5 42.4,358.4 42.9,358.3 43.4,358.3 43.9,358.2 44.4,358.1 44.9,358 45.4,357.9 45.9,357.8 46.4,357.6 46.9,357.5 47.4,357.4 47.9,357.2 48.4,357 48.9,356.9 49.4,356.7 49.9,356.5 50.4,356.2 50.9,355.9 51.4,355.5 51.9,355.1 52.4,354.7 52.9,354.2 53.4,353.7 53.9,353.1 54.4,352.5 54.9,351.9 55.4,351.2 55.9,350.4 56.4,349.4 56.9,348.4 57.4,347.2 57.9,346 58.4,344.7 58.9,343.3 59.4,341.9 59.9,340.4 60.4,338.9 60.9,337.1 61.4,335.3 61.9,333.3 62.4,331.2 62.9,329 63.4,326.7 63.9,324.5 64.4,322.2 64.9,320 65.4,317.5 65.9,314.7 66.4,311.2 66.9,305.5 67.4,300.4 67.9,297.6 68.4,295.4 68.9,293.6 69.4,291.6 69.9,289 70.4,285.7 70.9,281.8 71.4,277.7 71.9,273.8 72.4,270.4 72.9,267.4 73.4,264.5 73.9,261.3 74.4,258.3 74.9,255.8 75.4,253.6 75.9,251.7 76.4,249.8 76.9,248 77.4,245.8 77.9,243.9 78.4,243.4 78.9,245.1 79.4,247.9 79.9,250.5 80.4,253.3 80.9,256.2 81.4,258.8 81.9,261.3 82.4,264 82.9,266.9 83.4,270 83.9,273.4 84.4,277.3 84.9,281.8 85.4,286.4 85.9,290.8 86.4,294.6 86.9,297.6 87.4,299.9 87.9,301.9 88.4,303.7 88.9,305.5 89.4,307.6 89.9,310.1 90.4,313 90.9,316.3 91.4,319.7 91.9,322.8 92.4,325.7 92.9,328.5 93.4,331.4 93.9,334 94.4,336.5 94.9,338.7 95.4,340.4 95.9,342 96.4,343.6 96.9,345 97.4,346.3 97.9,347.6 98.4,348.7 98.9,349.7 99.4,350.6 99.9,351.4 100.4,352 100.9,352.5 101.4,353.1 101.9,353.6 102.4,354 102.9,354.5 103.4,354.9 103.9,355.2 104.4,355.6 104.9,355.9 105.4,356.1 105.9,356.4 106.4,356.6 106.9,356.8 107.4,357 107.9,357.1 108.4,357.3 108.9,357.5 109.4,357.6 109.9,357.8 110.4,357.9 110.9,358 111.4,358.1 111.9,358.2 112.4,358.3 112.9,358.4 113.4,358.5 113.9,358.6 114.4,358.7 114.9,358.7 115.4,358.8 115.9,358.9 116.4,358.9 116.9,359 117.4,359 117.9,359.1 118.4,359.1 118.9,359.2 119.4,359.2 119.9,359.3 120.4,359.3 120.9,359.4 121.4,359.4 121.9,359.5 122.4,359.5 122.9,359.5 123.4,359.6 123.9,359.6 124.4,359.6 124.9,359.6 125.4,359.6 125.9,359.7 125.9,359.7" fill="#c0dcec" /><polygon points="29.4,359.7 29.4,359.7 29.9,359.6 30.4,359.6 30.9,359.6 31.4,359.5 31.9,359.5 32.4,359.4 32.9,359.3 33.4,359.3 33.9,359.2 34.4,359.1 34.9,359 35.4,358.8 35.9,358.7 36.4,358.6 36.9,358.4 37.4,358.3 37.9,358.1 38.4,357.9 38.9,357.7 39.4,357.5 39.9,357.3 40.4,357.1 40.9,356.9 41.4,356.7 41.9,356.4 42.4,356.1 42.9,355.7 43.4,355.3 43.9,354.8 44.4,354.3 44.9,353.6 45.4,353 45.9,352.2 46.4,351.4 46.9,350.4 47.4,349.1 47.9,347.7 48.4,346 48.9,344.2 49.4,342.4 49.9,340.5 50.4,338.6 50.9,336.5 51.4,334.3 51.9,332 52.4,329.4 52.9,326.5 53.4,323.3 53.9,319.6 54.4,315.3 54.9,310.2 55.4,304 55.9,296.5 56.4,289.6 56.9,282.8 57.4,276.7 57.9,272 58.4,268.8 58.9,266.1 59.4,263.5 59.9,260.8 60.4,258.4 60.9,256.3 61.4,254.4 61.9,252.7 62.4,251.5 62.9,250.6 63.4,250 63.9,249.9 64.4,250.3 64.9,251.3 65.4,252.6 65.9,254.2 66.4,256 66.9,258.1 67.4,261.2 67.9,264.5 68.4,267.3 68.9,270 69.4,273.8 69.9,279.7 70.4,286.1 70.9,290.6 71.4,293.3 71.9,295.5 72.4,298 72.9,300.3 73.4,302.7 73.9,305.2 74.4,308 74.9,311.6 75.4,315.8 75.9,320 76.4,323.4 76.9,326 77.4,328.3 77.9,330.5 78.4,332.4 78.9,334.2 79.4,335.9 79.9,337.4 80.4,338.9 80.9,340.4 81.4,341.8 81.9,343.3 82.4,344.6 82.9,346 83.4,347.2 83.9,348.4 84.4,349.5 84.9,350.4 85.4,351.2 85.9,351.8 86.4,352.4 86.9,353 87.4,353.4 87.9,353.9 88.4,354.3 88.9,354.7 89.4,355.1 89.9,355.4 90.4,355.8 90.9,356 91.4,356.3 91.9,356.5 92.4,356.8 92.9,357 93.4,357.2 93.9,357.4 94.4,357.6 94.9,357.7 95.4,357.9 95.9,358 96.4,358.2 96.9,358.3 97.4,358.4 97.9,358.5 98.4,358.6 98.9,358.7 99.4,358.8 99.9,358.9 100.4,359 100.9,359 101.4,359.1 101.9,359.2 102.4,359.2 102.9,359.3 103.4,359.3 103.9,359.4 104.4,359.4 104.9,359.5 105.4,359.5 105.9,359.5 106.4,359.6 106.9,359.6 107.4,359.6 107.9,359.7 108.4,359.7 108.4,359.7" fill="#daa2a8" /><polygon points="30.4,359.7 30.4,359.7 30.9,359.7 31.4,359.6 31.9,359.6 32.4,359.6 32.9,359.5 33.4,359.5 33.9,359.5 34.4,359.4 34.9,359.4 35.4,359.3 35.9,359.3 36.4,359.2 36.9,359.2 37.4,359.1 37.9,359 38.4,359 38.9,358.9 39.4,358.9 39.9,358.8 40.4,358.7 40.9,358.7 41.4,358.6 41.9,358.5 42.4,358.4 42.9,358.3 43.4,358.3 43.9,358.2 44.4,358.1 44.9,358 45.4,357.9 45.9,357.8 46.4,357.6 46.9,357.5 47.4,357.4 47.9,357.2 48.4,357 48.9,356.9 49.4,356.7 49.9,356.5 50.4,356.2 50.9,355.9 51.4,355.5 51.9,355.1 52.4,354.7 52.9,354.2 53.4,353.7 53.9,353.1 54.4,352.5 54.9,351.9 55.4,351.2 55.9,350.4 56.4,349.4 56.9,348.4 57.4,347.2 57.9,346 58.4,344.7 58.9,343.3 59.4,341.9 59.9,340.4 60.4,338.9 60.9,337.1 61.4,335.3 61.9,333.3 62.4,331.2 62.9,329 63.4,326.7 63.9,324.5 64.4,322.2 64.9,320 65.4,317.5 65.9,314.7 66.4,311.2 66.9,305.5 67.4,300.4 67.9,297.6 68.4,295.4 68.9,293.6 69.4,291.6 69.9,289 70.4,285.7 70.9,281.8 71.4,277.7 71.9,275.1 72.4,277.4 72.9,279.7 73.4,282.2 73.9,284.7 74.4,287.2 74.9,289.6 75.4,292.1 75.9,294.7 76.4,297.3 76.9,299.6 77.4,301.5 77.9,303.2 78.4,304.8 78.9,306.3 79.4,307.7 79.9,309.2 80.4,310.7 80.9,312.3 81.4,313.8 81.9,315.3 82.4,316.9 82.9,318.5 83.4,320.1 83.9,321.8 84.4,323.6 84.9,325.6 85.4,327.9 85.9,330.3 86.4,332.8 86.9,335.3 87.4,337.5 87.9,339.4 88.4,341 88.9,342.6 89.4,344 89.9,345.4 90.4,346.7 90.9,347.9 91.4,349 91.9,350 92.4,350.9 92.9,351.6 93.4,352.3 93.9,352.9 94.4,353.4 94.9,354 95.4,354.5 95.9,354.9 96.4,355.3 96.9,355.7 97.4,356.1 97.9,356.3 98.4,356.6 98.9,356.8 99.4,357 99.9,357.2 100.4,357.4 100.9,357.6 101.4,357.8 101.9,358 102.4,358.2 102.9,358.3 103.4,358.5 103.9,358.6 104.4,358.8 104.9,358.9 105.4,359 105.9,359.1 106.4,359.2 106.9,359.3 107.4,359.4 107.9,359.4 108.4,359.5 108.9,359.6 109.4,359.6 109.9,359.6 110.4,359.7 110.4,359.7" fill="#acc8da" /><polygon points="30.4,359.7 30.4,359.7 30.9,359.7 31.4,359.6 31.9,359.6 32.4,359.6 32.9,359.5 33.4,359.5 33.9,359.5 34.4,359.4 34.9,359.4 35.4,359.3 35.9,359.3 36.4,359.2 36.9,359.2 37.4,359.1 37.9,359 38.4,359 38.9,358.9 39.4,358.9 39.9,358.8 40.4,358.7 40.9,358.7 41.4,358.6 41.9,358.5 42.4,358.4 42.9,358.3 43.4,358.3 43.9,358.2 44.4,358.1 44.9,358 45.4,357.9 45.9,357.8 46.4,357.6 46.9,357.5 47.4,357.4 47.9,357.2 48.4,357 48.9,356.9 49.4,356.7 49.9,356.5 50.4,356.2 50.9,355.9 51.4,355.5 51.9,355.1 52.4,354.7 52.9,354.2 53.4,353.7 53.9,353.1 54.4,352.5 54.9,351.9 55.4,351.2 55.9,350.4 56.4,349.4 56.9,348.4 57.4,347.2 57.9,346 58.4,344.7 58.9,343.3 59.4,341.9 59.9,340.4 60.4,338.9 60.9,337.1 61.4,335.3 61.9,333.3 62.4,331.2 62.9,329 63.4,326.7 63.9,324.5 64.4,322.2 64.9,320 65.4,317.5 65.9,314.7 66.4,311.2 66.9,305.5 67.4,300.4 67.9,297.6 68.4,295.4 68.9,293.6 69.4,291.6 69.9,289 70.4,286.1 70.9,290.6 71.4,293.3 71.9,295.5 72.4,298 72.9,300.3 73.4,302.7 73.9,305.2 74.4,308 74.9,311.6 75.4,315.8 75.9,320 76.4,323.4 76.9,326 77.4,328.3 77.9,330.5 78.4,332.4 78.9,334.2 79.4,335.9 79.9,337.4 80.4,338.9 80.9,340.4 81.4,341.8 81.9,343.3 82.4,344.6 82.9,346 83.4,347.2 83.9,348.4 84.4,349.5 84.9,350.4 85.4,351.2 85.9,351.8 86.4,352.4 86.9,353 87.4,353.4 87.9,353.9 88.4,354.3 88.9,354.7 89.4,355.1 89.9,355.4 90.4,355.8 90.9,356 91.4,356.3 91.9,356.5 92.4,356.8 92.9,357 93.4,357.2 93.9,357.4 94.4,357.6 94.9,357.7 95.4,357.9 95.9,358 96.4,358.2 96.9,358.3 97.4,358.4 97.9,358.5 98.4,358.6 98.9,358.7 99.4,358.8 99.9,358.9 100.4,359 100.9,359 101.4,359.1 101.9,359.2 102.4,359.2 102.9,359.3 103.4,359.3 103.9,359.4 104.4,359.4 104.9,359.5 105.4,359.5 105.9,359.5 106.4,359.6 106.9,359.6 107.4,359.6 107.9,359.7 108.4,359.7 108.4,359.7" fill="#b2a5be" /><polygon points="30.4,359.7 30.4,359.7 30.9,359.7 31.4,359.6 31.9,359.6 32.4,359.6 32.9,359.5 33.4,359.5 33.9,359.5 34.4,359.4 34.9,359.4 35.4,359.3 35.9,359.3 36.4,359.2 36.9,359.2 37.4,359.1 37.9,359 38.4,359 38.9,358.9 39.4,358.9 39.9,358.8 40.4,358.7 40.9,358.7 41.4,358.6 41.9,358.5 42.4,358.4 42.9,358.3 43.4,358.3 43.9,358.2 44.4,358.1 44.9,358 45.4,357.9 45.9,357.8 46.4,357.6 46.9,357.5 47.4,357.4 47.9,357.2 48.4,357 48.9,356.9 49.4,356.7 49.9,356.5 50.4,356.2 50.9,355.9 51.4,355.5 51.9,355.1 52.4,354.7 52.9,354.2 53.4,353.7 53.9,353.1 54.4,352.5 54.9,351.9 55.4,351.2 55.9,350.4 56.4,349.4 56.9,348.4 57.4,347.2 57.9,346 58.4,344.7 58.9,343.3 59.4,341.9 59.9,340.4 60.4,338.9 60.9,337.1 61.4,335.3 61.9,333.3 62.4,331.2 62.9,329 63.4,326.7 63.9,324.5 64.4,322.2 64.9,320 65.4,317.5 65.9,314.7 66.4,311.2 66.9,305.5 67.4,300.4 67.9,297.6 68.4,295.4 68.9,293.6 69.4,291.6 69.9,289 70.4,286.1 70.9,290.6 71.4,293.3 71.9,295.5 72.4,298 72.9,300.3 73.4,302.7 73.9,305.2 74.4,308 74.9,311.6 75.4,315.8 75.9,320 76.4,323.4 76.9,326 77.4,328.3 77.9,330.5 78.4,332.4 78.9,334.2 79.4,335.9 79.9,337.4 80.4,338.9 80.9,340.4 81.4,341.8 81.9,343.3 82.4,344.6 82.9,346 83.4,347.2 83.9,348.4 84.4,349.5 84.9,350.4 85.4,351.2 85.9,351.8 86.4,352.4 86.9,353 87.4,353.4 87.9,353.9 88.4,354.3 88.9,354.7 89.4,355.1 89.9,355.4 90.4,355.8 90.9,356 91.4,356.3 91.9,356.5 92.4,356.8 92.9,357 93.4,357.2 93.9,357.4 94.4,357.6 94.9,357.7 95.4,357.9 95.9,358 96.4,358.2 96.9,358.3 97.4,358.4 97.9,358.5 98.4,358.6 98.9,358.7 99.4,358.8 99.9,358.9 100.4,359 100.9,359 101.4,359.1 101.9,359.2 102.4,359.2 102.9,359.3 103.4,359.3 103.9,359.4 104.4,359.4 104.9,359.5 105.4,359.5 105.9,359.5 106.4,359.6 106.9,359.6 107.4,359.6 107.9,359.7 108.4,359.7 108.4,359.7" fill="#a89aae" /><clipPath id="u4"><polygon points="14.4,359.7 14.4,359.7 14.9,359.7 15.4,359.6 15.9,359.6 16.4,359.6 16.9,359.6 17.4,359.5 17.9,359.5 18.4,359.5 18.9,359.4 19.4,359.4 19.9,359.4 20.4,359.3 20.9,359.3 21.4,359.2 21.9,359.2 22.4,359.1 22.9,359.1 23.4,359 23.9,359 24.4,358.9 24.9,358.9 25.4,358.8 25.9,358.7 26.4,358.7 26.9,358.6 27.4,358.5 27.9,358.4 28.4,358.3 28.9,358.2 29.4,358.1 29.9,358 30.4,357.9 30.9,357.7 31.4,357.6 31.9,357.5 32.4,357.3 32.9,357.1 33.4,357 33.9,356.8 34.4,356.6 34.9,356.4 35.4,356.2 35.9,356 36.4,355.7 36.9,355.4 37.4,355.1 37.9,354.8 38.4,354.5 38.9,354.1 39.4,353.7 39.9,353.2 40.4,352.8 40.9,352.3 41.4,351.7 41.9,351.1 42.4,350.3 42.9,349.3 43.4,348.2 43.9,347 44.4,345.7 44.9,344.3 45.4,342.9 45.9,341.3 46.4,339.8 46.9,338.1 47.4,336.2 47.9,334.1 48.4,331.8 48.9,329.5 49.4,327 49.9,324.5 50.4,322 50.9,319.5 51.4,316.8 51.9,313.8 52.4,310.3 52.9,306 53.4,299.7 53.9,294.8 54.4,291 54.9,287.5 55.4,284.4 55.9,281.5 56.4,278.8 56.9,276 57.4,273.2 57.9,270.2 58.4,267.3 58.9,264.6 59.4,261.8 59.9,259.1 60.4,257 60.9,255.5 61.4,254 61.9,252.4 62.4,250.5 62.9,248.9 63.4,247.6 63.9,246.9 64.4,246.8 64.9,247.8 65.4,249.8 65.9,252.3 66.4,254.9 66.9,257.1 67.4,259.3 67.9,261.5 68.4,263.6 68.9,265.4 69.4,266.8 69.9,268 70.4,269.4 70.9,271 71.4,273 71.9,273.8 72.4,270.4 72.9,267.4 73.4,264.5 73.9,261.3 74.4,258.3 74.9,255.8 75.4,253.6 75.9,251.7 76.4,249.8 76.9,248 77.4,245.8 77.9,243.9 78.4,243.4 78.9,245.1 79.4,247.9 79.9,250.5 80.4,253.3 80.9,256.2 81.4,258.8 81.9,261.3 82.4,264 82.9,266.9 83.4,270 83.9,273.4 84.4,277.3 84.9,281.8 85.4,286.4 85.9,290.8 86.4,294.6 86.9,297.6 87.4,299.9 87.9,301.9 88.4,303.7 88.9,305.5 89.4,307.6 89.9,310.1 90.4,313 90.9,316.3 91.4,319.7 91.9,322.8 92.4,325.7 92.9,328.5 93.4,331.4 93.9,334 94.4,336.5 94.9,338.7 95.4,340.4 95.9,342 96.4,343.6 96.9,345 97.4,346.3 97.9,347.6 98.4,348.7 98.9,349.7 99.4,350.6 99.9,351.4 100.4,352 100.9,352.5 101.4,353.1 101.9,353.6 102.4,354 102.9,354.5 103.4,354.9 103.9,355.2 104.4,355.6 104.9,355.9 105.4,356.1 105.9,356.4 106.4,356.6 106.9,356.8 107.4,357 107.9,357.1 108.4,357.3 108.9,357.5 109.4,357.6 109.9,357.8 110.4,357.9 110.9,358 111.4,358.1 111.9,358.2 112.4,358.3 112.9,358.4 113.4,358.5 113.9,358.6 114.4,358.7 114.9,358.7 115.4,358.8 115.9,358.9 116.4,358.9 116.9,359 117.4,359 117.9,359.1 118.4,359.1 118.9,359.2 119.4,359.2 119.9,359.3 120.4,359.3 120.9,359.4 121.4,359.4 121.9,359.5 122.4,359.5 122.9,359.5 123.4,359.6 123.9,359.6 124.4,359.6 124.9,359.6 125.4,359.6 125.9,359.7 125.9,359.7"/></clipPath><g clip-path="url(#u4)"><line x1="11.5" x2="11.5" y1="236.9" y2="365.3" stroke="#000" stroke-opacity="0.032" stroke-width="1.07"/><line x1="26.09" x2="26.09" y1="236.9" y2="365.3" stroke="#000" stroke-opacity="0.022" stroke-width="0.53"/><line x1="40.67" x2="40.67" y1="236.9" y2="365.3" stroke="#000" stroke-opacity="0.032" stroke-width="1.07"/><line x1="55.26" x2="55.26" y1="236.9" y2="365.3" stroke="#000" stroke-opacity="0.022" stroke-width="0.53"/><line x1="69.85" x2="69.85" y1="236.9" y2="365.3" stroke="#000" stroke-opacity="0.032" stroke-width="1.07"/><line x1="84.44" x2="84.44" y1="236.9" y2="365.3" stroke="#000" stroke-opacity="0.022" stroke-width="0.53"/><line x1="99.02" x2="99.02" y1="236.9" y2="365.3" stroke="#000" stroke-opacity="0.032" stroke-width="1.07"/><line x1="113.61" x2="113.61" y1="236.9" y2="365.3" stroke="#000" stroke-opacity="0.022" stroke-width="0.53"/><line x1="128.2" x2="128.2" y1="236.9" y2="365.3" stroke="#000" stroke-opacity="0.032" stroke-width="1.07"/><line x1="5.9" x2="134.1" y1="359.3" y2="359.3" stroke="#000" stroke-opacity="0.032" stroke-width="1.07"/><line x1="5.9" x2="134.1" y1="338.25" y2="338.25" stroke="#000" stroke-opacity="0.022" stroke-width="0.53"/><line x1="5.9" x2="134.1" y1="317.2" y2="317.2" stroke="#000" stroke-opacity="0.032" stroke-width="1.07"/><line x1="5.9" x2="134.1" y1="296.15" y2="296.15" stroke="#000" stroke-opacity="0.022" stroke-width="0.53"/><line x1="5.9" x2="134.1" y1="275.1" y2="275.1" stroke="#000" stroke-opacity="0.032" stroke-width="1.07"/><line x1="5.9" x2="134.1" y1="254.05" y2="254.05" stroke="#000" stroke-opacity="0.022" stroke-width="0.53"/></g><text x="69.85" y="283.11" font-size="8.4" font-style="italic" text-anchor="middle" fill="#111" stroke="#111" stroke-width="0.2">Nor - Con</text><text x="69.85" y="294.91" font-size="8.4" font-style="italic" text-anchor="middle" fill="#111" stroke="#111" stroke-width="0.2">95% HDI = [-0.06 - 0.28]</text><text x="69.85" y="325.01" font-size="8.4" font-style="italic" text-anchor="middle" fill="#111" stroke="#111" stroke-width="0.2">Mal - Con</text><text x="69.85" y="336.71" font-size="8.4" font-style="italic" text-anchor="middle" fill="#111" stroke="#111" stroke-width="0.2">95% HDI = [-0.26 - 0.09]</text><text x="11.5" y="376.9" font-size="9.2" text-anchor="middle" fill="#4d4d4d" stroke="#4d4d4d" stroke-width="0.25">-0.50</text><text x="40.67" y="376.9" font-size="9.2" text-anchor="middle" fill="#4d4d4d" stroke="#4d4d4d" stroke-width="0.25">-0.25</text><text x="69.85" y="376.9" font-size="9.2" text-anchor="middle" fill="#4d4d4d" stroke="#4d4d4d" stroke-width="0.25">0.00</text><text x="99.02" y="376.9" font-size="9.2" text-anchor="middle" fill="#4d4d4d" stroke="#4d4d4d" stroke-width="0.25">0.25</text><text x="128.2" y="376.9" font-size="9.2" text-anchor="middle" fill="#4d4d4d" stroke="#4d4d4d" stroke-width="0.25">0.50</text><text x="69.85" y="389.9" font-size="11.5" text-anchor="middle" fill="#111" stroke="#111" stroke-width="0.2">Empathy</text><text x="69.85" y="402.8" font-size="11.5" text-anchor="middle" fill="#111" stroke="#111" stroke-width="0.2">(z-scored)</text></g><g><line x1="167.95" x2="167.95" y1="236.9" y2="365.3" stroke="#ebebeb" stroke-width="1.07"/><line x1="182.54" x2="182.54" y1="236.9" y2="365.3" stroke="#ebebeb" stroke-width="0.53"/><line x1="197.12" x2="197.12" y1="236.9" y2="365.3" stroke="#ebebeb" stroke-width="1.07"/><line x1="211.71" x2="211.71" y1="236.9" y2="365.3" stroke="#ebebeb" stroke-width="0.53"/><line x1="226.3" x2="226.3" y1="236.9" y2="365.3" stroke="#ebebeb" stroke-width="1.07"/><line x1="240.89" x2="240.89" y1="236.9" y2="365.3" stroke="#ebebeb" stroke-width="0.53"/><line x1="255.48" x2="255.48" y1="236.9" y2="365.3" stroke="#ebebeb" stroke-width="1.07"/><line x1="270.06" x2="270.06" y1="236.9" y2="365.3" stroke="#ebebeb" stroke-width="0.53"/><line x1="284.65" x2="284.65" y1="236.9" y2="365.3" stroke="#ebebeb" stroke-width="1.07"/><line x1="162.3" x2="290.5" y1="359.3" y2="359.3" stroke="#ebebeb" stroke-width="1.07"/><line x1="162.3" x2="290.5" y1="337.5" y2="337.5" stroke="#ebebeb" stroke-width="0.53"/><line x1="162.3" x2="290.5" y1="315.7" y2="315.7" stroke="#ebebeb" stroke-width="1.07"/><line x1="162.3" x2="290.5" y1="293.9" y2="293.9" stroke="#ebebeb" stroke-width="0.53"/><line x1="162.3" x2="290.5" y1="272.1" y2="272.1" stroke="#ebebeb" stroke-width="1.07"/><line x1="162.3" x2="290.5" y1="250.3" y2="250.3" stroke="#ebebeb" stroke-width="0.53"/><polygon points="181.3,359.7 181.3,359.7 181.8,359.7 182.3,359.6 182.8,359.6 183.3,359.5 183.8,359.5 184.3,359.4 184.8,359.4 185.3,359.3 185.8,359.2 186.3,359.1 186.8,359 187.3,358.9 187.8,358.8 188.3,358.6 188.8,358.5 189.3,358.4 189.8,358.2 190.3,358 190.8,357.9 191.3,357.7 191.8,357.5 192.3,357.3 192.8,357.2 193.3,357 193.8,356.8 194.3,356.6 194.8,356.3 195.3,356.1 195.8,355.8 196.3,355.5 196.8,355.1 197.3,354.7 197.8,354.3 198.3,353.9 198.8,353.4 199.3,352.9 199.8,352.4 200.3,351.8 200.8,351.2 201.3,350.6 201.8,349.8 202.3,348.9 202.8,348 203.3,347 203.8,345.9 204.3,344.7 204.8,343.5 205.3,342.2 205.8,340.9 206.3,339.5 206.8,338 207.3,336.3 207.8,334.5 208.3,332.5 208.8,330.3 209.3,328 209.8,325.6 210.3,322.9 210.8,319.7 211.3,316.1 211.8,312.3 212.3,308.4 212.8,304.2 213.3,299.8 213.8,295.6 214.3,292 214.8,288.9 215.3,286.1 215.8,283.3 216.3,280.8 216.8,278.4 217.3,276.1 217.8,274.1 218.3,272.1 218.8,270.3 219.3,268.8 219.8,267.5 220.3,266.2 220.8,264.8 221.3,263.1 221.8,260.8 222.3,258.2 222.8,255.6 223.3,253.4 223.8,251 224.3,248.8 224.8,247 225.3,246 225.8,246.2 226.3,247.5 226.8,249.5 227.3,251.9 227.8,254 228.3,255.6 228.8,257.1 229.3,258.4 229.8,259.8 230.3,261.1 230.8,262.5 231.3,263.9 231.8,265.2 232.3,266.4 232.8,267.8 233.3,269.6 233.8,272.4 234.3,278.1 234.8,285.2 235.3,291.2 235.8,294.8 236.3,297.9 236.8,300.7 237.3,303.1 237.8,305.4 238.3,307.7 238.8,310 239.3,312.4 239.8,314.7 240.3,316.9 240.8,319.1 241.3,321.3 241.8,323.6 242.3,325.8 242.8,328.3 243.3,330.7 243.8,333.1 244.3,335.5 244.8,337.6 245.3,339.5 245.8,341 246.3,342.6 246.8,344 247.3,345.4 247.8,346.7 248.3,347.9 248.8,349 249.3,350 249.8,350.9 250.3,351.6 250.8,352.3 251.3,352.9 251.8,353.4 252.3,354 252.8,354.5 253.3,354.9 253.8,355.3 254.3,355.7 254.8,356 255.3,356.3 255.8,356.6 256.3,356.8 256.8,357.1 257.3,357.3 257.8,357.5 258.3,357.7 258.8,357.9 259.3,358.1 259.8,358.3 260.3,358.5 260.8,358.6 261.3,358.8 261.8,358.9 262.3,359 262.8,359.1 263.3,359.3 263.8,359.3 264.3,359.4 264.8,359.5 265.3,359.6 265.8,359.6 266.3,359.6 266.8,359.7 266.8,359.7" fill="#e4e5e4" /><polygon points="168.8,359.7 168.8,359.7 169.3,359.6 169.8,359.6 170.3,359.6 170.8,359.5 171.3,359.5 171.8,359.5 172.3,359.4 172.8,359.4 173.3,359.3 173.8,359.2 174.3,359.2 174.8,359.1 175.3,359.1 175.8,359 176.3,358.9 176.8,358.8 177.3,358.8 177.8,358.7 178.3,358.6 178.8,358.5 179.3,358.4 179.8,358.3 180.3,358.2 180.8,358.1 181.3,357.9 181.8,357.8 182.3,357.7 182.8,357.5 183.3,357.4 183.8,357.2 184.3,357 184.8,356.8 185.3,356.6 185.8,356.4 186.3,356.2 186.8,356 187.3,355.7 187.8,355.4 188.3,355.1 188.8,354.8 189.3,354.5 189.8,354.1 190.3,353.7 190.8,353.3 191.3,352.8 191.8,352.3 192.3,351.8 192.8,351.3 193.3,350.6 193.8,349.8 194.3,349 194.8,348 195.3,347 195.8,345.9 196.3,344.8 196.8,343.5 197.3,342.3 197.8,340.9 198.3,339.5 198.8,338 199.3,336.3 199.8,334.5 200.3,332.4 200.8,330.3 201.3,328 201.8,325.5 202.3,322.9 202.8,319.8 203.3,316.4 203.8,312.8 204.3,309.3 204.8,305.9 205.3,302.4 205.8,298.9 206.3,295.4 206.8,292 207.3,288.6 207.8,285.2 208.3,281.9 208.8,278.6 209.3,275.5 209.8,272.5 210.3,269.8 210.8,267.3 211.3,264.9 211.8,262.7 212.3,260.5 212.8,258.4 213.3,256.4 213.8,254.7 214.3,253 214.8,251.2 215.3,249.4 215.8,247.8 216.3,246.5 216.8,245.5 217.3,245.1 217.8,245.8 218.3,248 218.8,251.1 219.3,254.2 219.8,256.8 220.3,259.6 220.8,262.5 221.3,265.5 221.8,268.7 222.3,272.1 222.8,276.1 223.3,280.4 223.8,284.9 224.3,289.4 224.8,293.8 225.3,298.5 225.8,303.2 226.3,307.3 226.8,310.6 227.3,313.1 227.8,315.2 228.3,317.2 228.8,318.9 229.3,320.7 229.8,322.5 230.3,324.4 230.8,326.5 231.3,328.7 231.8,330.9 232.3,333.1 232.8,335.2 233.3,337.2 233.8,338.9 234.3,340.4 234.8,341.7 235.3,343 235.8,344.2 236.3,345.4 236.8,346.4 237.3,347.5 237.8,348.4 238.3,349.3 238.8,350.1 239.3,350.9 239.8,351.5 240.3,352.1 240.8,352.6 241.3,353.1 241.8,353.6 242.3,354 242.8,354.5 243.3,354.9 243.8,355.2 244.3,355.6 244.8,355.9 245.3,356.2 245.8,356.4 246.3,356.6 246.8,356.8 247.3,357 247.8,357.2 248.3,357.4 248.8,357.6 249.3,357.7 249.8,357.9 250.3,358 250.8,358.1 251.3,358.2 251.8,358.3 252.3,358.4 252.8,358.5 253.3,358.6 253.8,358.7 254.3,358.8 254.8,358.9 255.3,358.9 255.8,359 256.3,359.1 256.8,359.1 257.3,359.2 257.8,359.2 258.3,359.3 258.8,359.3 259.3,359.4 259.8,359.4 260.3,359.5 260.8,359.5 261.3,359.5 261.8,359.6 262.3,359.6 262.8,359.6 263.3,359.7 263.8,359.7 263.8,359.7" fill="#e8b6bc" /><polygon points="186.8,359.7 186.8,359.7 187.3,359.6 187.8,359.6 188.3,359.6 188.8,359.6 189.3,359.5 189.8,359.5 190.3,359.5 190.8,359.4 191.3,359.4 191.8,359.3 192.3,359.3 192.8,359.2 193.3,359.2 193.8,359.1 194.3,359.1 194.8,359 195.3,359 195.8,358.9 196.3,358.8 196.8,358.8 197.3,358.7 197.8,358.6 198.3,358.5 198.8,358.5 199.3,358.4 199.8,358.3 200.3,358.2 200.8,358.1 201.3,358 201.8,357.9 202.3,357.8 202.8,357.7 203.3,357.5 203.8,357.4 204.3,357.2 204.8,357.1 205.3,356.9 205.8,356.7 206.3,356.6 206.8,356.3 207.3,356.1 207.8,355.8 208.3,355.5 208.8,355.2 209.3,354.8 209.8,354.4 210.3,354 210.8,353.5 211.3,353 211.8,352.5 212.3,351.9 212.8,351.4 213.3,350.7 213.8,350 214.3,349.1 214.8,348.2 215.3,347.2 215.8,346.1 216.3,345 216.8,343.8 217.3,342.5 217.8,341.2 218.3,339.8 218.8,338.3 219.3,336.4 219.8,334.4 220.3,332.3 220.8,330.1 221.3,327.9 221.8,325.7 222.3,323.6 222.8,321.7 223.3,319.9 223.8,318 224.3,316.1 224.8,314 225.3,311.6 225.8,308.8 226.3,305.2 226.8,300.9 227.3,296.4 227.8,292 228.3,287.5 228.8,282.8 229.3,278.1 229.8,273.9 230.3,270.4 230.8,267.5 231.3,264.9 231.8,262.5 232.3,260.2 232.8,258 233.3,255.9 233.8,253.9 234.3,252 234.8,250.1 235.3,247.9 235.8,245.7 236.3,243.9 236.8,243.2 237.3,244.2 237.8,246.4 238.3,249.1 238.8,251.3 239.3,253.3 239.8,255.4 240.3,257.5 240.8,259.8 241.3,262.2 241.8,264.6 242.3,267.3 242.8,270.3 243.3,274.2 243.8,279.2 244.3,284.6 244.8,289.5 245.3,293.4 245.8,296.8 246.3,299.8 246.8,302.6 247.3,305.3 247.8,307.9 248.3,310.5 248.8,313.1 249.3,315.6 249.8,318 250.3,320.3 250.8,322.6 251.3,324.9 251.8,327.3 252.3,329.7 252.8,332.1 253.3,334.4 253.8,336.5 254.3,338.5 254.8,340.1 255.3,341.6 255.8,343 256.3,344.4 256.8,345.7 257.3,346.9 257.8,348 258.3,349.1 258.8,350 259.3,350.8 259.8,351.5 260.3,352.1 260.8,352.6 261.3,353.1 261.8,353.6 262.3,354 262.8,354.5 263.3,354.8 263.8,355.2 264.3,355.5 264.8,355.8 265.3,356.1 265.8,356.4 266.3,356.6 266.8,356.8 267.3,357 267.8,357.2 268.3,357.4 268.8,357.6 269.3,357.8 269.8,357.9 270.3,358.1 270.8,358.2 271.3,358.3 271.8,358.4 272.3,358.6 272.8,358.7 273.3,358.7 273.8,358.8 274.3,358.9 274.8,359 275.3,359 275.8,359.1 276.3,359.1 276.8,359.2 277.3,359.3 277.8,359.3 278.3,359.4 278.8,359.4 279.3,359.4 279.8,359.5 280.3,359.5 280.8,359.6 281.3,359.6 281.8,359.6 282.3,359.6 282.8,359.7 282.8,359.7" fill="#c0dcec" /><polygon points="181.3,359.7 181.3,359.7 181.8,359.7 182.3,359.6 182.8,359.6 183.3,359.5 183.8,359.5 184.3,359.4 184.8,359.4 185.3,359.3 185.8,359.2 186.3,359.1 186.8,359 187.3,358.9 187.8,358.8 188.3,358.6 188.8,358.5 189.3,358.4 189.8,358.2 190.3,358 190.8,357.9 191.3,357.7 191.8,357.5 192.3,357.3 192.8,357.2 193.3,357 193.8,356.8 194.3,356.6 194.8,356.3 195.3,356.1 195.8,355.8 196.3,355.5 196.8,355.1 197.3,354.7 197.8,354.3 198.3,353.9 198.8,353.4 199.3,352.9 199.8,352.4 200.3,351.8 200.8,351.2 201.3,350.6 201.8,349.8 202.3,348.9 202.8,348 203.3,347 203.8,345.9 204.3,344.7 204.8,343.5 205.3,342.2 205.8,340.9 206.3,339.5 206.8,338 207.3,336.3 207.8,334.5 208.3,332.5 208.8,330.3 209.3,328 209.8,325.6 210.3,322.9 210.8,319.7 211.3,316.1 211.8,312.3 212.3,308.4 212.8,304.2 213.3,299.8 213.8,295.6 214.3,292 214.8,288.9 215.3,286.1 215.8,283.3 216.3,280.8 216.8,278.4 217.3,276.1 217.8,274.1 218.3,272.1 218.8,270.3 219.3,268.8 219.8,267.5 220.3,266.2 220.8,264.8 221.3,265.5 221.8,268.7 222.3,272.1 222.8,276.1 223.3,280.4 223.8,284.9 224.3,289.4 224.8,293.8 225.3,298.5 225.8,303.2 226.3,307.3 226.8,310.6 227.3,313.1 227.8,315.2 228.3,317.2 228.8,318.9 229.3,320.7 229.8,322.5 230.3,324.4 230.8,326.5 231.3,328.7 231.8,330.9 232.3,333.1 232.8,335.2 233.3,337.2 233.8,338.9 234.3,340.4 234.8,341.7 235.3,343 235.8,344.2 236.3,345.4 236.8,346.4 237.3,347.5 237.8,348.4 238.3,349.3 238.8,350.1 239.3,350.9 239.8,351.5 240.3,352.1 240.8,352.6 241.3,353.1 241.8,353.6 242.3,354 242.8,354.5 243.3,354.9 243.8,355.2 244.3,355.6 244.8,355.9 245.3,356.2 245.8,356.4 246.3,356.6 246.8,356.8 247.3,357 247.8,357.2 248.3,357.4 248.8,357.6 249.3,357.7 249.8,357.9 250.3,358 250.8,358.1 251.3,358.2 251.8,358.3 252.3,358.4 252.8,358.5 253.3,358.6 253.8,358.7 254.3,358.8 254.8,358.9 255.3,358.9 255.8,359 256.3,359.1 256.8,359.1 257.3,359.2 257.8,359.2 258.3,359.3 258.8,359.3 259.3,359.4 259.8,359.4 260.3,359.5 260.8,359.5 261.3,359.5 261.8,359.6 262.3,359.6 262.8,359.6 263.3,359.7 263.8,359.7 263.8,359.7" fill="#daa2a8" /><polygon points="186.8,359.7 186.8,359.7 187.3,359.6 187.8,359.6 188.3,359.6 188.8,359.6 189.3,359.5 189.8,359.5 190.3,359.5 190.8,359.4 191.3,359.4 191.8,359.3 192.3,359.3 192.8,359.2 193.3,359.2 193.8,359.1 194.3,359.1 194.8,359 195.3,359 195.8,358.9 196.3,358.8 196.8,358.8 197.3,358.7 197.8,358.6 198.3,358.5 198.8,358.5 199.3,358.4 199.8,358.3 200.3,358.2 200.8,358.1 201.3,358 201.8,357.9 202.3,357.8 202.8,357.7 203.3,357.5 203.8,357.4 204.3,357.2 204.8,357.1 205.3,356.9 205.8,356.7 206.3,356.6 206.8,356.3 207.3,356.1 207.8,355.8 208.3,355.5 208.8,355.2 209.3,354.8 209.8,354.4 210.3,354 210.8,353.5 211.3,353 211.8,352.5 212.3,351.9 212.8,351.4 213.3,350.7 213.8,350 214.3,349.1 214.8,348.2 215.3,347.2 215.8,346.1 216.3,345 216.8,343.8 217.3,342.5 217.8,341.2 218.3,339.8 218.8,338.3 219.3,336.4 219.8,334.4 220.3,332.3 220.8,330.1 221.3,327.9 221.8,325.7 222.3,323.6 222.8,321.7 223.3,319.9 223.8,318 224.3,316.1 224.8,314 225.3,311.6 225.8,308.8 226.3,305.2 226.8,300.9 227.3,296.4 227.8,292 228.3,287.5 228.8,282.8 229.3,278.1 229.8,273.9 230.3,270.4 230.8,267.5 231.3,264.9 231.8,265.2 232.3,266.4 232.8,267.8 233.3,269.6 233.8,272.4 234.3,278.1 234.8,285.2 235.3,291.2 235.8,294.8 236.3,297.9 236.8,300.7 237.3,303.1 237.8,305.4 238.3,307.7 238.8,310 239.3,312.4 239.8,314.7 240.3,316.9 240.8,319.1 241.3,321.3 241.8,323.6 242.3,325.8 242.8,328.3 243.3,330.7 243.8,333.1 244.3,335.5 244.8,337.6 245.3,339.5 245.8,341 246.3,342.6 246.8,344 247.3,345.4 247.8,346.7 248.3,347.9 248.8,349 249.3,350 249.8,350.9 250.3,351.6 250.8,352.3 251.3,352.9 251.8,353.4 252.3,354 252.8,354.5 253.3,354.9 253.8,355.3 254.3,355.7 254.8,356 255.3,356.3 255.8,356.6 256.3,356.8 256.8,357.1 257.3,357.3 257.8,357.5 258.3,357.7 258.8,357.9 259.3,358.1 259.8,358.3 260.3,358.5 260.8,358.6 261.3,358.8 261.8,358.9 262.3,359 262.8,359.1 263.3,359.3 263.8,359.3 264.3,359.4 264.8,359.5 265.3,359.6 265.8,359.6 266.3,359.6 266.8,359.7 266.8,359.7" fill="#acc8da" /><polygon points="186.8,359.7 186.8,359.7 187.3,359.6 187.8,359.6 188.3,359.6 188.8,359.6 189.3,359.5 189.8,359.5 190.3,359.5 190.8,359.4 191.3,359.4 191.8,359.3 192.3,359.3 192.8,359.2 193.3,359.2 193.8,359.1 194.3,359.1 194.8,359 195.3,359 195.8,358.9 196.3,358.8 196.8,358.8 197.3,358.7 197.8,358.6 198.3,358.5 198.8,358.5 199.3,358.4 199.8,358.3 200.3,358.2 200.8,358.1 201.3,358 201.8,357.9 202.3,357.8 202.8,357.7 203.3,357.5 203.8,357.4 204.3,357.2 204.8,357.1 205.3,356.9 205.8,356.7 206.3,356.6 206.8,356.3 207.3,356.1 207.8,355.8 208.3,355.5 208.8,355.2 209.3,354.8 209.8,354.4 210.3,354 210.8,353.5 211.3,353 211.8,352.5 212.3,351.9 212.8,351.4 213.3,350.7 213.8,350 214.3,349.1 214.8,348.2 215.3,347.2 215.8,346.1 216.3,345 216.8,343.8 217.3,342.5 217.8,341.2 218.3,339.8 218.8,338.3 219.3,336.4 219.8,334.4 220.3,332.3 220.8,330.1 221.3,327.9 221.8,325.7 222.3,323.6 222.8,321.7 223.3,319.9 223.8,318 224.3,316.1 224.8,314 225.3,311.6 225.8,308.8 226.3,307.3 226.8,310.6 227.3,313.1 227.8,315.2 228.3,317.2 228.8,318.9 229.3,320.7 229.8,322.5 230.3,324.4 230.8,326.5 231.3,328.7 231.8,330.9 232.3,333.1 232.8,335.2 233.3,337.2 233.8,338.9 234.3,340.4 234.8,341.7 235.3,343 235.8,344.2 236.3,345.4 236.8,346.4 237.3,347.5 237.8,348.4 238.3,349.3 238.8,350.1 239.3,350.9 239.8,351.5 240.3,352.1 240.8,352.6 241.3,353.1 241.8,353.6 242.3,354 242.8,354.5 243.3,354.9 243.8,355.2 244.3,355.6 244.8,355.9 245.3,356.2 245.8,356.4 246.3,356.6 246.8,356.8 247.3,357 247.8,357.2 248.3,357.4 248.8,357.6 249.3,357.7 249.8,357.9 250.3,358 250.8,358.1 251.3,358.2 251.8,358.3 252.3,358.4 252.8,358.5 253.3,358.6 253.8,358.7 254.3,358.8 254.8,358.9 255.3,358.9 255.8,359 256.3,359.1 256.8,359.1 257.3,359.2 257.8,359.2 258.3,359.3 258.8,359.3 259.3,359.4 259.8,359.4 260.3,359.5 260.8,359.5 261.3,359.5 261.8,359.6 262.3,359.6 262.8,359.6 263.3,359.7 263.8,359.7 263.8,359.7" fill="#b2a5be" /><polygon points="186.8,359.7 186.8,359.7 187.3,359.6 187.8,359.6 188.3,359.6 188.8,359.6 189.3,359.5 189.8,359.5 190.3,359.5 190.8,359.4 191.3,359.4 191.8,359.3 192.3,359.3 192.8,359.2 193.3,359.2 193.8,359.1 194.3,359.1 194.8,359 195.3,359 195.8,358.9 196.3,358.8 196.8,358.8 197.3,358.7 197.8,358.6 198.3,358.5 198.8,358.5 199.3,358.4 199.8,358.3 200.3,358.2 200.8,358.1 201.3,358 201.8,357.9 202.3,357.8 202.8,357.7 203.3,357.5 203.8,357.4 204.3,357.2 204.8,357.1 205.3,356.9 205.8,356.7 206.3,356.6 206.8,356.3 207.3,356.1 207.8,355.8 208.3,355.5 208.8,355.2 209.3,354.8 209.8,354.4 210.3,354 210.8,353.5 211.3,353 211.8,352.5 212.3,351.9 212.8,351.4 213.3,350.7 213.8,350 214.3,349.1 214.8,348.2 215.3,347.2 215.8,346.1 216.3,345 216.8,343.8 217.3,342.5 217.8,341.2 218.3,339.8 218.8,338.3 219.3,336.4 219.8,334.4 220.3,332.3 220.8,330.1 221.3,327.9 221.8,325.7 222.3,323.6 222.8,321.7 223.3,319.9 223.8,318 224.3,316.1 224.8,314 225.3,311.6 225.8,308.8 226.3,307.3 226.8,310.6 227.3,313.1 227.8,315.2 228.3,317.2 228.8,318.9 229.3,320.7 229.8,322.5 230.3,324.4 230.8,326.5 231.3,328.7 231.8,330.9 232.3,333.1 232.8,335.2 233.3,337.2 233.8,338.9 234.3,340.4 234.8,341.7 235.3,343 235.8,344.2 236.3,345.4 236.8,346.4 237.3,347.5 237.8,348.4 238.3,349.3 238.8,350.1 239.3,350.9 239.8,351.5 240.3,352.1 240.8,352.6 241.3,353.1 241.8,353.6 242.3,354 242.8,354.5 243.3,354.9 243.8,355.2 244.3,355.6 244.8,355.9 245.3,356.2 245.8,356.4 246.3,356.6 246.8,356.8 247.3,357 247.8,357.2 248.3,357.4 248.8,357.6 249.3,357.7 249.8,357.9 250.3,358 250.8,358.1 251.3,358.2 251.8,358.3 252.3,358.4 252.8,358.5 253.3,358.6 253.8,358.7 254.3,358.8 254.8,358.9 255.3,358.9 255.8,359 256.3,359.1 256.8,359.1 257.3,359.2 257.8,359.2 258.3,359.3 258.8,359.3 259.3,359.4 259.8,359.4 260.3,359.5 260.8,359.5 261.3,359.5 261.8,359.6 262.3,359.6 262.8,359.6 263.3,359.7 263.8,359.7 263.8,359.7" fill="#a89aae" /><clipPath id="u5"><polygon points="168.8,359.7 168.8,359.7 169.3,359.6 169.8,359.6 170.3,359.6 170.8,359.5 171.3,359.5 171.8,359.5 172.3,359.4 172.8,359.4 173.3,359.3 173.8,359.2 174.3,359.2 174.8,359.1 175.3,359.1 175.8,359 176.3,358.9 176.8,358.8 177.3,358.8 177.8,358.7 178.3,358.6 178.8,358.5 179.3,358.4 179.8,358.3 180.3,358.2 180.8,358.1 181.3,357.9 181.8,357.8 182.3,357.7 182.8,357.5 183.3,357.4 183.8,357.2 184.3,357 184.8,356.8 185.3,356.6 185.8,356.4 186.3,356.2 186.8,356 187.3,355.7 187.8,355.4 188.3,355.1 188.8,354.8 189.3,354.5 189.8,354.1 190.3,353.7 190.8,353.3 191.3,352.8 191.8,352.3 192.3,351.8 192.8,351.3 193.3,350.6 193.8,349.8 194.3,349 194.8,348 195.3,347 195.8,345.9 196.3,344.8 196.8,343.5 197.3,342.3 197.8,340.9 198.3,339.5 198.8,338 199.3,336.3 199.8,334.5 200.3,332.4 200.8,330.3 201.3,328 201.8,325.5 202.3,322.9 202.8,319.8 203.3,316.4 203.8,312.8 204.3,309.3 204.8,305.9 205.3,302.4 205.8,298.9 206.3,295.4 206.8,292 207.3,288.6 207.8,285.2 208.3,281.9 208.8,278.6 209.3,275.5 209.8,272.5 210.3,269.8 210.8,267.3 211.3,264.9 211.8,262.7 212.3,260.5 212.8,258.4 213.3,256.4 213.8,254.7 214.3,253 214.8,251.2 215.3,249.4 215.8,247.8 216.3,246.5 216.8,245.5 217.3,245.1 217.8,245.8 218.3,248 218.8,251.1 219.3,254.2 219.8,256.8 220.3,259.6 220.8,262.5 221.3,263.1 221.8,260.8 222.3,258.2 222.8,255.6 223.3,253.4 223.8,251 224.3,248.8 224.8,247 225.3,246 225.8,246.2 226.3,247.5 226.8,249.5 227.3,251.9 227.8,254 228.3,255.6 228.8,257.1 229.3,258.4 229.8,259.8 230.3,261.1 230.8,262.5 231.3,263.9 231.8,262.5 232.3,260.2 232.8,258 233.3,255.9 233.8,253.9 234.3,252 234.8,250.1 235.3,247.9 235.8,245.7 236.3,243.9 236.8,243.2 237.3,244.2 237.8,246.4 238.3,249.1 238.8,251.3 239.3,253.3 239.8,255.4 240.3,257.5 240.8,259.8 241.3,262.2 241.8,264.6 242.3,267.3 242.8,270.3 243.3,274.2 243.8,279.2 244.3,284.6 244.8,289.5 245.3,293.4 245.8,296.8 246.3,299.8 246.8,302.6 247.3,305.3 247.8,307.9 248.3,310.5 248.8,313.1 249.3,315.6 249.8,318 250.3,320.3 250.8,322.6 251.3,324.9 251.8,327.3 252.3,329.7 252.8,332.1 253.3,334.4 253.8,336.5 254.3,338.5 254.8,340.1 255.3,341.6 255.8,343 256.3,344.4 256.8,345.7 257.3,346.9 257.8,348 258.3,349.1 258.8,350 259.3,350.8 259.8,351.5 260.3,352.1 260.8,352.6 261.3,353.1 261.8,353.6 262.3,354 262.8,354.5 263.3,354.8 263.8,355.2 264.3,355.5 264.8,355.8 265.3,356.1 265.8,356.4 266.3,356.6 266.8,356.8 267.3,357 267.8,357.2 268.3,357.4 268.8,357.6 269.3,357.8 269.8,357.9 270.3,358.1 270.8,358.2 271.3,358.3 271.8,358.4 272.3,358.6 272.8,358.7 273.3,358.7 273.8,358.8 274.3,358.9 274.8,359 275.3,359 275.8,359.1 276.3,359.1 276.8,359.2 277.3,359.3 277.8,359.3 278.3,359.4 278.8,359.4 279.3,359.4 279.8,359.5 280.3,359.5 280.8,359.6 281.3,359.6 281.8,359.6 282.3,359.6 282.8,359.7 282.8,359.7"/></clipPath><g clip-path="url(#u5)"><line x1="167.95" x2="167.95" y1="236.9" y2="365.3" stroke="#000" stroke-opacity="0.032" stroke-width="1.07"/><line x1="182.54" x2="182.54" y1="236.9" y2="365.3" stroke="#000" stroke-opacity="0.022" stroke-width="0.53"/><line x1="197.12" x2="197.12" y1="236.9" y2="365.3" stroke="#000" stroke-opacity="0.032" stroke-width="1.07"/><line x1="211.71" x2="211.71" y1="236.9" y2="365.3" stroke="#000" stroke-opacity="0.022" stroke-width="0.53"/><line x1="226.3" x2="226.3" y1="236.9" y2="365.3" stroke="#000" stroke-opacity="0.032" stroke-width="1.07"/><line x1="240.89" x2="240.89" y1="236.9" y2="365.3" stroke="#000" stroke-opacity="0.022" stroke-width="0.53"/><line x1="255.48" x2="255.48" y1="236.9" y2="365.3" stroke="#000" stroke-opacity="0.032" stroke-width="1.07"/><line x1="270.06" x2="270.06" y1="236.9" y2="365.3" stroke="#000" stroke-opacity="0.022" stroke-width="0.53"/><line x1="284.65" x2="284.65" y1="236.9" y2="365.3" stroke="#000" stroke-opacity="0.032" stroke-width="1.07"/><line x1="162.3" x2="290.5" y1="359.3" y2="359.3" stroke="#000" stroke-opacity="0.032" stroke-width="1.07"/><line x1="162.3" x2="290.5" y1="337.5" y2="337.5" stroke="#000" stroke-opacity="0.022" stroke-width="0.53"/><line x1="162.3" x2="290.5" y1="315.7" y2="315.7" stroke="#000" stroke-opacity="0.032" stroke-width="1.07"/><line x1="162.3" x2="290.5" y1="293.9" y2="293.9" stroke="#000" stroke-opacity="0.022" stroke-width="0.53"/><line x1="162.3" x2="290.5" y1="272.1" y2="272.1" stroke="#000" stroke-opacity="0.032" stroke-width="1.07"/><line x1="162.3" x2="290.5" y1="250.3" y2="250.3" stroke="#000" stroke-opacity="0.022" stroke-width="0.53"/></g><text x="226.3" y="280.11" font-size="8.4" font-style="italic" text-anchor="middle" fill="#111" stroke="#111" stroke-width="0.2">Nor - Con</text><text x="226.3" y="292.11" font-size="8.4" font-style="italic" text-anchor="middle" fill="#111" stroke="#111" stroke-width="0.2">95% HDI = [-0.08 - 0.27]</text><text x="226.3" y="323.41" font-size="8.4" font-style="italic" text-anchor="middle" fill="#111" stroke="#111" stroke-width="0.2">Mal - Con</text><text x="226.3" y="335.81" font-size="8.4" font-style="italic" text-anchor="middle" fill="#111" stroke="#111" stroke-width="0.2">95% HDI = [-0.26 - 0.1]</text><text x="167.95" y="376.9" font-size="9.2" text-anchor="middle" fill="#4d4d4d" stroke="#4d4d4d" stroke-width="0.25">-0.50</text><text x="197.12" y="376.9" font-size="9.2" text-anchor="middle" fill="#4d4d4d" stroke="#4d4d4d" stroke-width="0.25">-0.25</text><text x="226.3" y="376.9" font-size="9.2" text-anchor="middle" fill="#4d4d4d" stroke="#4d4d4d" stroke-width="0.25">0.00</text><text x="255.48" y="376.9" font-size="9.2" text-anchor="middle" fill="#4d4d4d" stroke="#4d4d4d" stroke-width="0.25">0.25</text><text x="284.65" y="376.9" font-size="9.2" text-anchor="middle" fill="#4d4d4d" stroke="#4d4d4d" stroke-width="0.25">0.50</text><text x="226.3" y="389.9" font-size="11.5" text-anchor="middle" fill="#111" stroke="#111" stroke-width="0.2">Empathic reactions</text><text x="226.3" y="402.8" font-size="11.5" text-anchor="middle" fill="#111" stroke="#111" stroke-width="0.2">(z-scored)</text></g><g><line x1="324.75" x2="324.75" y1="236.9" y2="365.3" stroke="#ebebeb" stroke-width="1.07"/><line x1="339.34" x2="339.34" y1="236.9" y2="365.3" stroke="#ebebeb" stroke-width="0.53"/><line x1="353.93" x2="353.93" y1="236.9" y2="365.3" stroke="#ebebeb" stroke-width="1.07"/><line x1="368.51" x2="368.51" y1="236.9" y2="365.3" stroke="#ebebeb" stroke-width="0.53"/><line x1="383.1" x2="383.1" y1="236.9" y2="365.3" stroke="#ebebeb" stroke-width="1.07"/><line x1="397.69" x2="397.69" y1="236.9" y2="365.3" stroke="#ebebeb" stroke-width="0.53"/><line x1="412.28" x2="412.28" y1="236.9" y2="365.3" stroke="#ebebeb" stroke-width="1.07"/><line x1="426.86" x2="426.86" y1="236.9" y2="365.3" stroke="#ebebeb" stroke-width="0.53"/><line x1="441.45" x2="441.45" y1="236.9" y2="365.3" stroke="#ebebeb" stroke-width="1.07"/><line x1="318.8" x2="447" y1="359.3" y2="359.3" stroke="#ebebeb" stroke-width="1.07"/><line x1="318.8" x2="447" y1="344.45" y2="344.45" stroke="#ebebeb" stroke-width="0.53"/><line x1="318.8" x2="447" y1="329.6" y2="329.6" stroke="#ebebeb" stroke-width="1.07"/><line x1="318.8" x2="447" y1="314.75" y2="314.75" stroke="#ebebeb" stroke-width="0.53"/><line x1="318.8" x2="447" y1="299.9" y2="299.9" stroke="#ebebeb" stroke-width="1.07"/><line x1="318.8" x2="447" y1="285.05" y2="285.05" stroke="#ebebeb" stroke-width="0.53"/><line x1="318.8" x2="447" y1="270.2" y2="270.2" stroke="#ebebeb" stroke-width="1.07"/><line x1="318.8" x2="447" y1="255.35" y2="255.35" stroke="#ebebeb" stroke-width="0.53"/><line x1="318.8" x2="447" y1="240.5" y2="240.5" stroke="#ebebeb" stroke-width="1.07"/><polygon points="344.8,359.7 344.8,359.7 345.3,359.7 345.8,359.6 346.3,359.6 346.8,359.6 347.3,359.6 347.8,359.6 348.3,359.5 348.8,359.5 349.3,359.4 349.8,359.4 350.3,359.3 350.8,359.2 351.3,359 351.8,358.8 352.3,358.6 352.8,358.2 353.3,357.7 353.8,357 354.3,356 354.8,354.8 355.3,353.2 355.8,351 356.3,348.3 356.8,345 357.3,340.9 357.8,335.9 358.3,330.1 358.8,323.5 359.3,316 359.8,307.9 360.3,299.2 360.8,290.2 361.3,281.3 361.8,272.6 362.3,264.7 362.8,257.7 363.3,252.1 363.8,248.2 364.3,246.1 364.8,245.9 365.3,247.6 365.8,251.2 366.3,256.5 366.8,263.2 367.3,271 367.8,279.5 368.3,288.4 368.8,297.4 369.3,306.2 369.8,314.4 370.3,322 370.8,328.9 371.3,334.8 371.8,339.9 372.3,344.2 372.8,347.7 373.3,350.5 373.8,352.8 374.3,354.5 374.8,355.8 375.3,356.8 375.8,357.6 376.3,358.1 376.8,358.5 377.3,358.8 377.8,359 378.3,359.2 378.8,359.3 379.3,359.4 379.8,359.4 380.3,359.5 380.8,359.5 381.3,359.6 381.8,359.6 382.3,359.6 382.8,359.6 383.3,359.6 383.8,359.7 384.3,359.7 384.3,359.7" fill="#e4e5e4" /><polygon points="363.8,359.7 363.8,359.7 364.3,359.7 364.8,359.6 365.3,359.6 365.8,359.6 366.3,359.6 366.8,359.6 367.3,359.5 367.8,359.5 368.3,359.4 368.8,359.4 369.3,359.3 369.8,359.2 370.3,359.1 370.8,358.9 371.3,358.6 371.8,358.3 372.3,357.9 372.8,357.3 373.3,356.4 373.8,355.4 374.3,354 374.8,352.2 375.3,349.9 375.8,347 376.3,343.5 376.8,339.3 377.3,334.3 377.8,328.4 378.3,321.9 378.8,314.5 379.3,306.6 379.8,298.2 380.3,289.6 380.8,281 381.3,272.8 381.8,265.1 382.3,258.4 382.8,253 383.3,249 383.8,246.7 384.3,246.1 384.8,247.4 385.3,250.4 385.8,255 386.3,261 386.8,268.1 387.3,276 387.8,284.5 388.3,293.1 388.8,301.6 389.3,309.9 389.8,317.6 390.3,324.6 390.8,330.9 391.3,336.4 391.8,341.1 392.3,345 392.8,348.2 393.3,350.9 393.8,352.9 394.3,354.6 394.8,355.8 395.3,356.8 395.8,357.5 396.3,358.1 396.8,358.5 397.3,358.8 397.8,359 398.3,359.1 398.8,359.3 399.3,359.3 399.8,359.4 400.3,359.5 400.8,359.5 401.3,359.5 401.8,359.6 402.3,359.6 402.8,359.6 403.3,359.6 403.8,359.6 404.3,359.7 404.8,359.7 404.8,359.7" fill="#e8b6bc" /><polygon points="376.3,359.7 376.3,359.7 376.8,359.7 377.3,359.6 377.8,359.6 378.3,359.6 378.8,359.6 379.3,359.6 379.8,359.5 380.3,359.5 380.8,359.5 381.3,359.4 381.8,359.3 382.3,359.2 382.8,359.1 383.3,358.9 383.8,358.7 384.3,358.3 384.8,357.9 385.3,357.3 385.8,356.4 386.3,355.3 386.8,353.8 387.3,351.8 387.8,349.3 388.3,346.2 388.8,342.4 389.3,337.7 389.8,332.2 390.3,325.8 390.8,318.5 391.3,310.5 391.8,301.9 392.3,292.9 392.8,283.8 393.3,274.8 393.8,266.4 394.3,259 394.8,252.7 395.3,248 395.8,245.1 396.3,244.1 396.8,245.1 397.3,248 397.8,252.7 398.3,259 398.8,266.4 399.3,274.8 399.8,283.8 400.3,292.9 400.8,301.9 401.3,310.5 401.8,318.5 402.3,325.8 402.8,332.2 403.3,337.7 403.8,342.4 404.3,346.2 404.8,349.3 405.3,351.8 405.8,353.8 406.3,355.3 406.8,356.4 407.3,357.3 407.8,357.9 408.3,358.3 408.8,358.7 409.3,358.9 409.8,359.1 410.3,359.2 410.8,359.3 411.3,359.4 411.8,359.5 412.3,359.5 412.8,359.5 413.3,359.6 413.8,359.6 414.3,359.6 414.8,359.6 415.3,359.6 415.8,359.7 416.3,359.7 416.3,359.7" fill="#c0dcec" /><polygon points="363.8,359.7 363.8,359.7 364.3,359.7 364.8,359.6 365.3,359.6 365.8,359.6 366.3,359.6 366.8,359.6 367.3,359.5 367.8,359.5 368.3,359.4 368.8,359.4 369.3,359.3 369.8,359.2 370.3,359.1 370.8,358.9 371.3,358.6 371.8,358.3 372.3,357.9 372.8,357.3 373.3,356.4 373.8,355.4 374.3,354.5 374.8,355.8 375.3,356.8 375.8,357.6 376.3,358.1 376.8,358.5 377.3,358.8 377.8,359 378.3,359.2 378.8,359.3 379.3,359.4 379.8,359.4 380.3,359.5 380.8,359.5 381.3,359.6 381.8,359.6 382.3,359.6 382.8,359.6 383.3,359.6 383.8,359.7 384.3,359.7 384.3,359.7" fill="#daa2a8" /><polygon points="376.3,359.7 376.3,359.7 376.8,359.7 377.3,359.6 377.8,359.6 378.3,359.6 378.8,359.6 379.3,359.6 379.8,359.5 380.3,359.5 380.8,359.5 381.3,359.6 381.8,359.6 382.3,359.6 382.8,359.6 383.3,359.6 383.8,359.7 384.3,359.7 384.3,359.7" fill="#acc8da" /><polygon points="376.3,359.7 376.3,359.7 376.8,359.7 377.3,359.6 377.8,359.6 378.3,359.6 378.8,359.6 379.3,359.6 379.8,359.5 380.3,359.5 380.8,359.5 381.3,359.4 381.8,359.3 382.3,359.2 382.8,359.1 383.3,358.9 383.8,358.7 384.3,358.3 384.8,357.9 385.3,357.3 385.8,356.4 386.3,355.3 386.8,353.8 387.3,351.8 387.8,349.3 388.3,346.2 388.8,342.4 389.3,337.7 389.8,332.2 390.3,325.8 390.8,330.9 391.3,336.4 391.8,341.1 392.3,345 392.8,348.2 393.3,350.9 393.8,352.9 394.3,354.6 394.8,355.8 395.3,356.8 395.8,357.5 396.3,358.1 396.8,358.5 397.3,358.8 397.8,359 398.3,359.1 398.8,359.3 399.3,359.3 399.8,359.4 400.3,359.5 400.8,359.5 401.3,359.5 401.8,359.6 402.3,359.6 402.8,359.6 403.3,359.6 403.8,359.6 404.3,359.7 404.8,359.7 404.8,359.7" fill="#b2a5be" /><polygon points="376.3,359.7 376.3,359.7 376.8,359.7 377.3,359.6 377.8,359.6 378.3,359.6 378.8,359.6 379.3,359.6 379.8,359.5 380.3,359.5 380.8,359.5 381.3,359.6 381.8,359.6 382.3,359.6 382.8,359.6 383.3,359.6 383.8,359.7 384.3,359.7 384.3,359.7" fill="#a89aae" /><clipPath id="u6"><polygon points="344.8,359.7 344.8,359.7 345.3,359.7 345.8,359.6 346.3,359.6 346.8,359.6 347.3,359.6 347.8,359.6 348.3,359.5 348.8,359.5 349.3,359.4 349.8,359.4 350.3,359.3 350.8,359.2 351.3,359 351.8,358.8 352.3,358.6 352.8,358.2 353.3,357.7 353.8,357 354.3,356 354.8,354.8 355.3,353.2 355.8,351 356.3,348.3 356.8,345 357.3,340.9 357.8,335.9 358.3,330.1 358.8,323.5 359.3,316 359.8,307.9 360.3,299.2 360.8,290.2 361.3,281.3 361.8,272.6 362.3,264.7 362.8,257.7 363.3,252.1 363.8,248.2 364.3,246.1 364.8,245.9 365.3,247.6 365.8,251.2 366.3,256.5 366.8,263.2 367.3,271 367.8,279.5 368.3,288.4 368.8,297.4 369.3,306.2 369.8,314.4 370.3,322 370.8,328.9 371.3,334.8 371.8,339.9 372.3,344.2 372.8,347.7 373.3,350.5 373.8,352.8 374.3,354 374.8,352.2 375.3,349.9 375.8,347 376.3,343.5 376.8,339.3 377.3,334.3 377.8,328.4 378.3,321.9 378.8,314.5 379.3,306.6 379.8,298.2 380.3,289.6 380.8,281 381.3,272.8 381.8,265.1 382.3,258.4 382.8,253 383.3,249 383.8,246.7 384.3,246.1 384.8,247.4 385.3,250.4 385.8,255 386.3,261 386.8,268.1 387.3,276 387.8,284.5 388.3,293.1 388.8,301.6 389.3,309.9 389.8,317.6 390.3,324.6 390.8,318.5 391.3,310.5 391.8,301.9 392.3,292.9 392.8,283.8 393.3,274.8 393.8,266.4 394.3,259 394.8,252.7 395.3,248 395.8,245.1 396.3,244.1 396.8,245.1 397.3,248 397.8,252.7 398.3,259 398.8,266.4 399.3,274.8 399.8,283.8 400.3,292.9 400.8,301.9 401.3,310.5 401.8,318.5 402.3,325.8 402.8,332.2 403.3,337.7 403.8,342.4 404.3,346.2 404.8,349.3 405.3,351.8 405.8,353.8 406.3,355.3 406.8,356.4 407.3,357.3 407.8,357.9 408.3,358.3 408.8,358.7 409.3,358.9 409.8,359.1 410.3,359.2 410.8,359.3 411.3,359.4 411.8,359.5 412.3,359.5 412.8,359.5 413.3,359.6 413.8,359.6 414.3,359.6 414.8,359.6 415.3,359.6 415.8,359.7 416.3,359.7 416.3,359.7"/></clipPath><g clip-path="url(#u6)"><line x1="324.75" x2="324.75" y1="236.9" y2="365.3" stroke="#000" stroke-opacity="0.032" stroke-width="1.07"/><line x1="339.34" x2="339.34" y1="236.9" y2="365.3" stroke="#000" stroke-opacity="0.022" stroke-width="0.53"/><line x1="353.93" x2="353.93" y1="236.9" y2="365.3" stroke="#000" stroke-opacity="0.032" stroke-width="1.07"/><line x1="368.51" x2="368.51" y1="236.9" y2="365.3" stroke="#000" stroke-opacity="0.022" stroke-width="0.53"/><line x1="383.1" x2="383.1" y1="236.9" y2="365.3" stroke="#000" stroke-opacity="0.032" stroke-width="1.07"/><line x1="397.69" x2="397.69" y1="236.9" y2="365.3" stroke="#000" stroke-opacity="0.022" stroke-width="0.53"/><line x1="412.28" x2="412.28" y1="236.9" y2="365.3" stroke="#000" stroke-opacity="0.032" stroke-width="1.07"/><line x1="426.86" x2="426.86" y1="236.9" y2="365.3" stroke="#000" stroke-opacity="0.022" stroke-width="0.53"/><line x1="441.45" x2="441.45" y1="236.9" y2="365.3" stroke="#000" stroke-opacity="0.032" stroke-width="1.07"/><line x1="318.8" x2="447" y1="359.3" y2="359.3" stroke="#000" stroke-opacity="0.032" stroke-width="1.07"/><line x1="318.8" x2="447" y1="344.45" y2="344.45" stroke="#000" stroke-opacity="0.022" stroke-width="0.53"/><line x1="318.8" x2="447" y1="329.6" y2="329.6" stroke="#000" stroke-opacity="0.032" stroke-width="1.07"/><line x1="318.8" x2="447" y1="314.75" y2="314.75" stroke="#000" stroke-opacity="0.022" stroke-width="0.53"/><line x1="318.8" x2="447" y1="299.9" y2="299.9" stroke="#000" stroke-opacity="0.032" stroke-width="1.07"/><line x1="318.8" x2="447" y1="285.05" y2="285.05" stroke="#000" stroke-opacity="0.022" stroke-width="0.53"/><line x1="318.8" x2="447" y1="270.2" y2="270.2" stroke="#000" stroke-opacity="0.032" stroke-width="1.07"/><line x1="318.8" x2="447" y1="255.35" y2="255.35" stroke="#000" stroke-opacity="0.022" stroke-width="0.53"/><line x1="318.8" x2="447" y1="240.5" y2="240.5" stroke="#000" stroke-opacity="0.032" stroke-width="1.07"/></g><text x="383.1" y="282.51" font-size="8.4" font-style="italic" text-anchor="middle" fill="#111" stroke="#111" stroke-width="0.2">Nor - Con</text><text x="383.1" y="294.01" font-size="8.4" font-style="italic" text-anchor="middle" fill="#111" stroke="#111" stroke-width="0.2">95% HDI = [0.17 - 0.36]</text><text x="383.1" y="322.11" font-size="8.4" font-style="italic" text-anchor="middle" fill="#111" stroke="#111" stroke-width="0.2">Mal - Con</text><text x="383.1" y="333.81" font-size="8.4" font-style="italic" text-anchor="middle" fill="#111" stroke="#111" stroke-width="0.2">95% HDI = [0.07 - 0.26]</text><text x="324.75" y="376.9" font-size="9.2" text-anchor="middle" fill="#4d4d4d" stroke="#4d4d4d" stroke-width="0.25">-0.50</text><text x="353.93" y="376.9" font-size="9.2" text-anchor="middle" fill="#4d4d4d" stroke="#4d4d4d" stroke-width="0.25">-0.25</text><text x="383.1" y="376.9" font-size="9.2" text-anchor="middle" fill="#4d4d4d" stroke="#4d4d4d" stroke-width="0.25">0.00</text><text x="412.28" y="376.9" font-size="9.2" text-anchor="middle" fill="#4d4d4d" stroke="#4d4d4d" stroke-width="0.25">0.25</text><text x="441.45" y="376.9" font-size="9.2" text-anchor="middle" fill="#4d4d4d" stroke="#4d4d4d" stroke-width="0.25">0.50</text><text x="383.1" y="389.9" font-size="11.5" text-anchor="middle" fill="#111" stroke="#111" stroke-width="0.2">Empathic drivers</text><text x="383.1" y="402.8" font-size="11.5" text-anchor="middle" fill="#111" stroke="#111" stroke-width="0.2">(z-scored)</text></g><g><line x1="481.55" x2="481.55" y1="236.9" y2="365.3" stroke="#ebebeb" stroke-width="1.07"/><line x1="496.14" x2="496.14" y1="236.9" y2="365.3" stroke="#ebebeb" stroke-width="0.53"/><line x1="510.72" x2="510.72" y1="236.9" y2="365.3" stroke="#ebebeb" stroke-width="1.07"/><line x1="525.31" x2="525.31" y1="236.9" y2="365.3" stroke="#ebebeb" stroke-width="0.53"/><line x1="539.9" x2="539.9" y1="236.9" y2="365.3" stroke="#ebebeb" stroke-width="1.07"/><line x1="554.49" x2="554.49" y1="236.9" y2="365.3" stroke="#ebebeb" stroke-width="0.53"/><line x1="569.07" x2="569.07" y1="236.9" y2="365.3" stroke="#ebebeb" stroke-width="1.07"/><line x1="583.66" x2="583.66" y1="236.9" y2="365.3" stroke="#ebebeb" stroke-width="0.53"/><line x1="598.25" x2="598.25" y1="236.9" y2="365.3" stroke="#ebebeb" stroke-width="1.07"/><line x1="475.6" x2="603.8" y1="359.3" y2="359.3" stroke="#ebebeb" stroke-width="1.07"/><line x1="475.6" x2="603.8" y1="344.6" y2="344.6" stroke="#ebebeb" stroke-width="0.53"/><line x1="475.6" x2="603.8" y1="329.9" y2="329.9" stroke="#ebebeb" stroke-width="1.07"/><line x1="475.6" x2="603.8" y1="315.2" y2="315.2" stroke="#ebebeb" stroke-width="0.53"/><line x1="475.6" x2="603.8" y1="300.5" y2="300.5" stroke="#ebebeb" stroke-width="1.07"/><line x1="475.6" x2="603.8" y1="285.8" y2="285.8" stroke="#ebebeb" stroke-width="0.53"/><line x1="475.6" x2="603.8" y1="271.1" y2="271.1" stroke="#ebebeb" stroke-width="1.07"/><line x1="475.6" x2="603.8" y1="256.4" y2="256.4" stroke="#ebebeb" stroke-width="0.53"/><line x1="475.6" x2="603.8" y1="241.7" y2="241.7" stroke="#ebebeb" stroke-width="1.07"/><polygon points="512.6,359.7 512.6,359.7 513.1,359.7 513.6,359.6 514.1,359.6 514.6,359.6 515.1,359.6 515.6,359.6 516.1,359.5 516.6,359.5 517.1,359.5 517.6,359.4 518.1,359.3 518.6,359.2 519.1,359.1 519.6,358.9 520.1,358.7 520.6,358.3 521.1,357.9 521.6,357.2 522.1,356.4 522.6,355.3 523.1,353.8 523.6,351.9 524.1,349.5 524.6,346.4 525.1,342.7 525.6,338.2 526.1,332.8 526.6,326.6 527.1,319.6 527.6,311.9 528.1,303.6 528.6,294.9 529.1,286 529.6,277.3 530.1,269.1 530.6,261.7 531.1,255.4 531.6,250.6 532.1,247.5 532.6,246.1 533.1,246.7 533.6,249.1 534.1,253.3 534.6,259 535.1,266 535.6,274 536.1,282.5 536.6,291.4 537.1,300.2 537.6,308.7 538.1,316.6 538.6,323.9 539.1,330.4 539.6,336.1 540.1,341 540.6,345 541.1,348.3 541.6,351 542.1,353.1 542.6,354.7 543.1,356 543.6,356.9 544.1,357.6 544.6,358.2 545.1,358.5 545.6,358.8 546.1,359 546.6,359.2 547.1,359.3 547.6,359.4 548.1,359.4 548.6,359.5 549.1,359.5 549.6,359.6 550.1,359.6 550.6,359.6 551.1,359.6 551.6,359.6 552.1,359.7 552.6,359.7 552.6,359.7" fill="#e4e5e4" /><polygon points="518.6,359.7 518.6,359.7 519.1,359.7 519.6,359.6 520.1,359.6 520.6,359.6 521.1,359.6 521.6,359.6 522.1,359.5 522.6,359.5 523.1,359.5 523.6,359.4 524.1,359.3 524.6,359.2 525.1,359.1 525.6,358.9 526.1,358.7 526.6,358.3 527.1,357.9 527.6,357.3 528.1,356.5 528.6,355.4 529.1,354 529.6,352.1 530.1,349.8 530.6,346.8 531.1,343.2 531.6,338.8 532.1,333.7 532.6,327.6 533.1,320.8 533.6,313.2 534.1,305 534.6,296.4 535.1,287.5 535.6,278.7 536.1,270.2 536.6,262.4 537.1,255.7 537.6,250.3 538.1,246.5 538.6,244.4 539.1,244.3 539.6,245.9 540.1,249.4 540.6,254.5 541.1,261 541.6,268.6 542.1,276.9 542.6,285.7 543.1,294.6 543.6,303.3 544.1,311.6 544.6,319.4 545.1,326.3 545.6,332.5 546.1,337.9 546.6,342.4 547.1,346.2 547.6,349.2 548.1,351.7 548.6,353.6 549.1,355.1 549.6,356.3 550.1,357.1 550.6,357.8 551.1,358.3 551.6,358.6 552.1,358.9 552.6,359.1 553.1,359.2 553.6,359.3 554.1,359.4 554.6,359.4 555.1,359.5 555.6,359.5 556.1,359.6 556.6,359.6 557.1,359.6 557.6,359.6 558.1,359.6 558.6,359.7 559.1,359.7 559.1,359.7" fill="#e8b6bc" /><polygon points="530.1,359.7 530.1,359.7 530.6,359.7 531.1,359.6 531.6,359.6 532.1,359.6 532.6,359.6 533.1,359.6 533.6,359.5 534.1,359.5 534.6,359.4 535.1,359.4 535.6,359.3 536.1,359.2 536.6,359 537.1,358.8 537.6,358.6 538.1,358.2 538.6,357.7 539.1,357 539.6,356.1 540.1,354.9 540.6,353.3 541.1,351.3 541.6,348.7 542.1,345.4 542.6,341.5 543.1,336.7 543.6,331.1 544.1,324.6 544.6,317.3 545.1,309.3 545.6,300.7 546.1,291.7 546.6,282.7 547.1,273.9 547.6,265.6 548.1,258.3 548.6,252.1 549.1,247.5 549.6,244.7 550.1,243.7 550.6,244.7 551.1,247.5 551.6,252.1 552.1,258.3 552.6,265.6 553.1,273.9 553.6,282.7 554.1,291.7 554.6,300.7 555.1,309.3 555.6,317.3 556.1,324.6 556.6,331.1 557.1,336.7 557.6,341.5 558.1,345.4 558.6,348.7 559.1,351.3 559.6,353.3 560.1,354.9 560.6,356.1 561.1,357 561.6,357.7 562.1,358.2 562.6,358.6 563.1,358.8 563.6,359 564.1,359.2 564.6,359.3 565.1,359.4 565.6,359.4 566.1,359.5 566.6,359.5 567.1,359.6 567.6,359.6 568.1,359.6 568.6,359.6 569.1,359.6 569.6,359.7 570.1,359.7 570.1,359.7" fill="#c0dcec" /><polygon points="518.6,359.7 518.6,359.7 519.1,359.7 519.6,359.6 520.1,359.6 520.6,359.6 521.1,359.6 521.6,359.6 522.1,359.5 522.6,359.5 523.1,359.5 523.6,359.4 524.1,359.3 524.6,359.2 525.1,359.1 525.6,358.9 526.1,358.7 526.6,358.3 527.1,357.9 527.6,357.3 528.1,356.5 528.6,355.4 529.1,354 529.6,352.1 530.1,349.8 530.6,346.8 531.1,343.2 531.6,338.8 532.1,333.7 532.6,327.6 533.1,320.8 533.6,313.2 534.1,305 534.6,296.4 535.1,287.5 535.6,278.7 536.1,282.5 536.6,291.4 537.1,300.2 537.6,308.7 538.1,316.6 538.6,323.9 539.1,330.4 539.6,336.1 540.1,341 540.6,345 541.1,348.3 541.6,351 542.1,353.1 542.6,354.7 543.1,356 543.6,356.9 544.1,357.6 544.6,358.2 545.1,358.5 545.6,358.8 546.1,359 546.6,359.2 547.1,359.3 547.6,359.4 548.1,359.4 548.6,359.5 549.1,359.5 549.6,359.6 550.1,359.6 550.6,359.6 551.1,359.6 551.6,359.6 552.1,359.7 552.6,359.7 552.6,359.7" fill="#daa2a8" /><polygon points="530.1,359.7 530.1,359.7 530.6,359.7 531.1,359.6 531.6,359.6 532.1,359.6 532.6,359.6 533.1,359.6 533.6,359.5 534.1,359.5 534.6,359.4 535.1,359.4 535.6,359.3 536.1,359.2 536.6,359 537.1,358.8 537.6,358.6 538.1,358.2 538.6,357.7 539.1,357 539.6,356.1 540.1,354.9 540.6,353.3 541.1,351.3 541.6,351 542.1,353.1 542.6,354.7 543.1,356 543.6,356.9 544.1,357.6 544.6,358.2 545.1,358.5 545.6,358.8 546.1,359 546.6,359.2 547.1,359.3 547.6,359.4 548.1,359.4 548.6,359.5 549.1,359.5 549.6,359.6 550.1,359.6 550.6,359.6 551.1,359.6 551.6,359.6 552.1,359.7 552.6,359.7 552.6,359.7" fill="#acc8da" /><polygon points="530.1,359.7 530.1,359.7 530.6,359.7 531.1,359.6 531.6,359.6 532.1,359.6 532.6,359.6 533.1,359.6 533.6,359.5 534.1,359.5 534.6,359.4 535.1,359.4 535.6,359.3 536.1,359.2 536.6,359 537.1,358.8 537.6,358.6 538.1,358.2 538.6,357.7 539.1,357 539.6,356.1 540.1,354.9 540.6,353.3 541.1,351.3 541.6,348.7 542.1,345.4 542.6,341.5 543.1,336.7 543.6,331.1 544.1,324.6 544.6,319.4 545.1,326.3 545.6,332.5 546.1,337.9 546.6,342.4 547.1,346.2 547.6,349.2 548.1,351.7 548.6,353.6 549.1,355.1 549.6,356.3 550.1,357.1 550.6,357.8 551.1,358.3 551.6,358.6 552.1,358.9 552.6,359.1 553.1,359.2 553.6,359.3 554.1,359.4 554.6,359.4 555.1,359.5 555.6,359.5 556.1,359.6 556.6,359.6 557.1,359.6 557.6,359.6 558.1,359.6 558.6,359.7 559.1,359.7 559.1,359.7" fill="#b2a5be" /><polygon points="530.1,359.7 530.1,359.7 530.6,359.7 531.1,359.6 531.6,359.6 532.1,359.6 532.6,359.6 533.1,359.6 533.6,359.5 534.1,359.5 534.6,359.4 535.1,359.4 535.6,359.3 536.1,359.2 536.6,359 537.1,358.8 537.6,358.6 538.1,358.2 538.6,357.7 539.1,357 539.6,356.1 540.1,354.9 540.6,353.3 541.1,351.3 541.6,351 542.1,353.1 542.6,354.7 543.1,356 543.6,356.9 544.1,357.6 544.6,358.2 545.1,358.5 545.6,358.8 546.1,359 546.6,359.2 547.1,359.3 547.6,359.4 548.1,359.4 548.6,359.5 549.1,359.5 549.6,359.6 550.1,359.6 550.6,359.6 551.1,359.6 551.6,359.6 552.1,359.7 552.6,359.7 552.6,359.7" fill="#a89aae" /><clipPath id="u7"><polygon points="512.6,359.7 512.6,359.7 513.1,359.7 513.6,359.6 514.1,359.6 514.6,359.6 515.1,359.6 515.6,359.6 516.1,359.5 516.6,359.5 517.1,359.5 517.6,359.4 518.1,359.3 518.6,359.2 519.1,359.1 519.6,358.9 520.1,358.7 520.6,358.3 521.1,357.9 521.6,357.2 522.1,356.4 522.6,355.3 523.1,353.8 523.6,351.9 524.1,349.5 524.6,346.4 525.1,342.7 525.6,338.2 526.1,332.8 526.6,326.6 527.1,319.6 527.6,311.9 528.1,303.6 528.6,294.9 529.1,286 529.6,277.3 530.1,269.1 530.6,261.7 531.1,255.4 531.6,250.6 532.1,247.5 532.6,246.1 533.1,246.7 533.6,249.1 534.1,253.3 534.6,259 535.1,266 535.6,274 536.1,270.2 536.6,262.4 537.1,255.7 537.6,250.3 538.1,246.5 538.6,244.4 539.1,244.3 539.6,245.9 540.1,249.4 540.6,254.5 541.1,261 541.6,268.6 542.1,276.9 542.6,285.7 543.1,294.6 543.6,303.3 544.1,311.6 544.6,317.3 545.1,309.3 545.6,300.7 546.1,291.7 546.6,282.7 547.1,273.9 547.6,265.6 548.1,258.3 548.6,252.1 549.1,247.5 549.6,244.7 550.1,243.7 550.6,244.7 551.1,247.5 551.6,252.1 552.1,258.3 552.6,265.6 553.1,273.9 553.6,282.7 554.1,291.7 554.6,300.7 555.1,309.3 555.6,317.3 556.1,324.6 556.6,331.1 557.1,336.7 557.6,341.5 558.1,345.4 558.6,348.7 559.1,351.3 559.6,353.3 560.1,354.9 560.6,356.1 561.1,357 561.6,357.7 562.1,358.2 562.6,358.6 563.1,358.8 563.6,359 564.1,359.2 564.6,359.3 565.1,359.4 565.6,359.4 566.1,359.5 566.6,359.5 567.1,359.6 567.6,359.6 568.1,359.6 568.6,359.6 569.1,359.6 569.6,359.7 570.1,359.7 570.1,359.7"/></clipPath><g clip-path="url(#u7)"><line x1="481.55" x2="481.55" y1="236.9" y2="365.3" stroke="#000" stroke-opacity="0.032" stroke-width="1.07"/><line x1="496.14" x2="496.14" y1="236.9" y2="365.3" stroke="#000" stroke-opacity="0.022" stroke-width="0.53"/><line x1="510.72" x2="510.72" y1="236.9" y2="365.3" stroke="#000" stroke-opacity="0.032" stroke-width="1.07"/><line x1="525.31" x2="525.31" y1="236.9" y2="365.3" stroke="#000" stroke-opacity="0.022" stroke-width="0.53"/><line x1="539.9" x2="539.9" y1="236.9" y2="365.3" stroke="#000" stroke-opacity="0.032" stroke-width="1.07"/><line x1="554.49" x2="554.49" y1="236.9" y2="365.3" stroke="#000" stroke-opacity="0.022" stroke-width="0.53"/><line x1="569.07" x2="569.07" y1="236.9" y2="365.3" stroke="#000" stroke-opacity="0.032" stroke-width="1.07"/><line x1="583.66" x2="583.66" y1="236.9" y2="365.3" stroke="#000" stroke-opacity="0.022" stroke-width="0.53"/><line x1="598.25" x2="598.25" y1="236.9" y2="365.3" stroke="#000" stroke-opacity="0.032" stroke-width="1.07"/><line x1="475.6" x2="603.8" y1="359.3" y2="359.3" stroke="#000" stroke-opacity="0.032" stroke-width="1.07"/><line x1="475.6" x2="603.8" y1="344.6" y2="344.6" stroke="#000" stroke-opacity="0.022" stroke-width="0.53"/><line x1="475.6" x2="603.8" y1="329.9" y2="329.9" stroke="#000" stroke-opacity="0.032" stroke-width="1.07"/><line x1="475.6" x2="603.8" y1="315.2" y2="315.2" stroke="#000" stroke-opacity="0.022" stroke-width="0.53"/><line x1="475.6" x2="603.8" y1="300.5" y2="300.5" stroke="#000" stroke-opacity="0.032" stroke-width="1.07"/><line x1="475.6" x2="603.8" y1="285.8" y2="285.8" stroke="#000" stroke-opacity="0.022" stroke-width="0.53"/><line x1="475.6" x2="603.8" y1="271.1" y2="271.1" stroke="#000" stroke-opacity="0.032" stroke-width="1.07"/><line x1="475.6" x2="603.8" y1="256.4" y2="256.4" stroke="#000" stroke-opacity="0.022" stroke-width="0.53"/><line x1="475.6" x2="603.8" y1="241.7" y2="241.7" stroke="#000" stroke-opacity="0.032" stroke-width="1.07"/></g><text x="539.9" y="282.81" font-size="8.4" font-style="italic" text-anchor="middle" fill="#111" stroke="#111" stroke-width="0.2">Nor - Con</text><text x="539.9" y="294.51" font-size="8.4" font-style="italic" text-anchor="middle" fill="#111" stroke="#111" stroke-width="0.2">95% HDI = [0.05 - 0.24]</text><text x="539.9" y="322.11" font-size="8.4" font-style="italic" text-anchor="middle" fill="#111" stroke="#111" stroke-width="0.2">Mal - Con</text><text x="539.9" y="334.21" font-size="8.4" font-style="italic" text-anchor="middle" fill="#111" stroke="#111" stroke-width="0.2">95% HDI = [-0.05 - 0.15]</text><text x="481.55" y="376.9" font-size="9.2" text-anchor="middle" fill="#4d4d4d" stroke="#4d4d4d" stroke-width="0.25">-0.50</text><text x="510.72" y="376.9" font-size="9.2" text-anchor="middle" fill="#4d4d4d" stroke="#4d4d4d" stroke-width="0.25">-0.25</text><text x="539.9" y="376.9" font-size="9.2" text-anchor="middle" fill="#4d4d4d" stroke="#4d4d4d" stroke-width="0.25">0.00</text><text x="569.07" y="376.9" font-size="9.2" text-anchor="middle" fill="#4d4d4d" stroke="#4d4d4d" stroke-width="0.25">0.25</text><text x="598.25" y="376.9" font-size="9.2" text-anchor="middle" fill="#4d4d4d" stroke="#4d4d4d" stroke-width="0.25">0.50</text><text x="539.9" y="389.9" font-size="11.5" text-anchor="middle" fill="#111" stroke="#111" stroke-width="0.2">Donations</text><text x="539.9" y="402.8" font-size="11.5" text-anchor="middle" fill="#111" stroke="#111" stroke-width="0.2">(z-scored)</text></g><rect x="623.7" y="47.5" width="13.3" height="13.3" fill="#e4e5e4"/><text x="643.7" y="57.44" font-size="9.2" fill="#111" stroke="#111" stroke-width="0.2">Control</text><rect x="623.7" y="61.9" width="13.3" height="13.3" fill="#f2e5b4"/><text x="643.7" y="71.84" font-size="9.2" fill="#111" stroke="#111" stroke-width="0.2">Limited</text><rect x="623.7" y="76.3" width="13.3" height="13.3" fill="#dfbefd"/><text x="643.7" y="86.24" font-size="9.2" fill="#111" stroke="#111" stroke-width="0.2">Unlimited</text><rect x="621.9" y="283.2" width="13.3" height="13.3" fill="#e4e5e4"/><text x="641.6" y="293.14" font-size="9.2" fill="#111" stroke="#111" stroke-width="0.2">Control</text><rect x="621.9" y="297.6" width="13.3" height="13.3" fill="#e8b6bc"/><text x="641.6" y="307.54" font-size="9.2" fill="#111" stroke="#111" stroke-width="0.2">Malleable</text><rect x="621.9" y="312" width="13.3" height="13.3" fill="#c0dcec"/><text x="641.6" y="321.94" font-size="9.2" fill="#111" stroke="#111" stroke-width="0.2">Normative</text></svg>
</body></html>
